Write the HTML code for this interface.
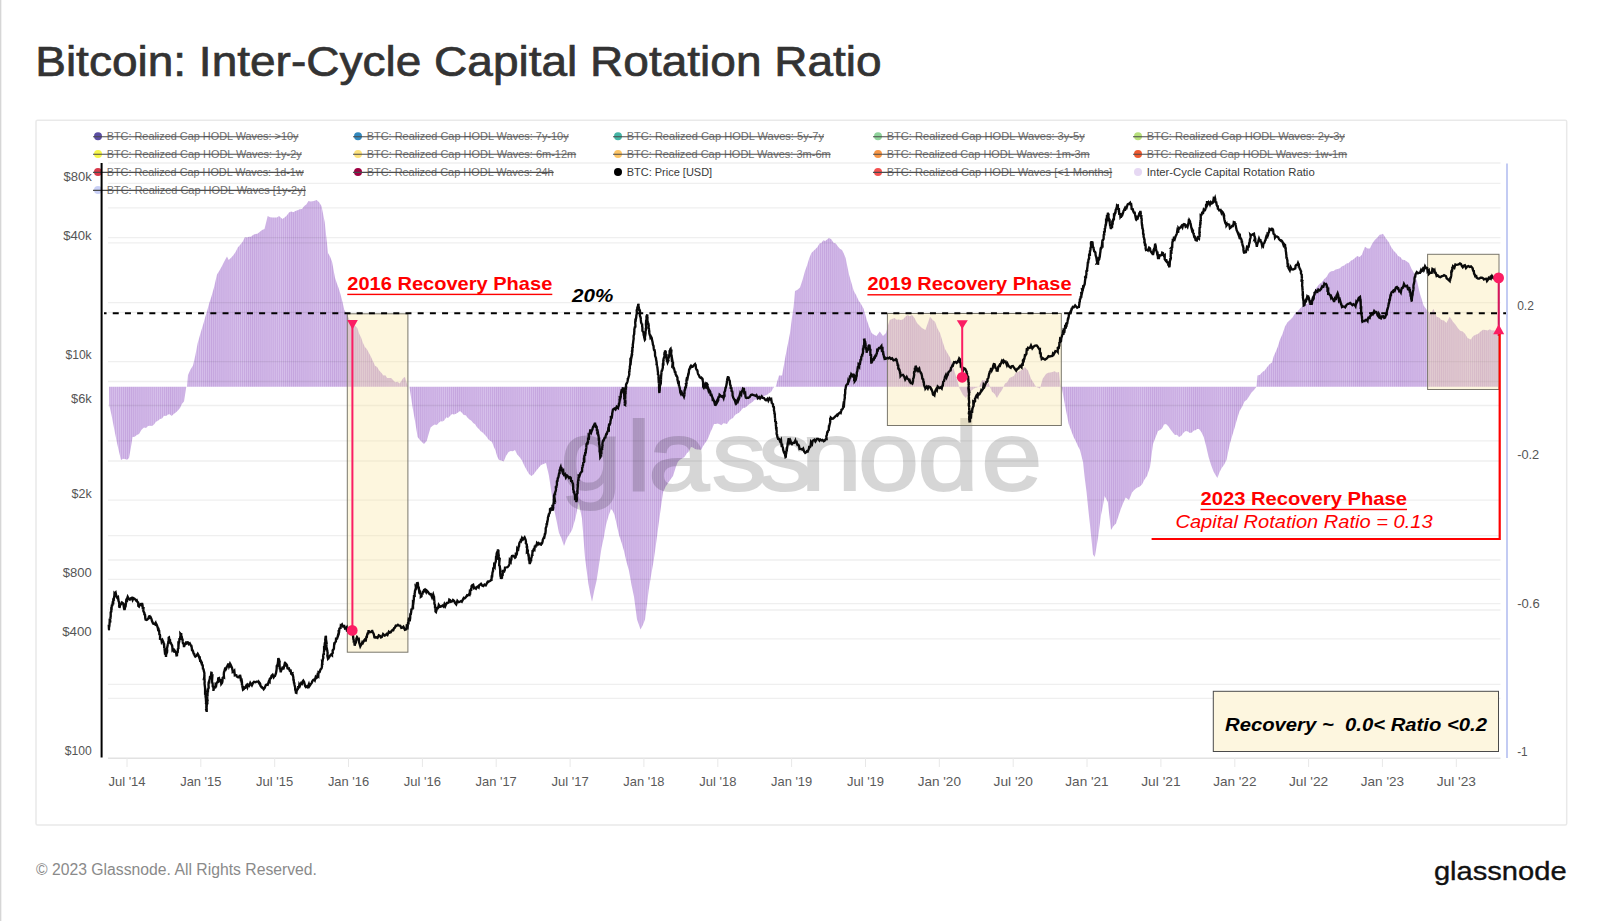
<!DOCTYPE html>
<html lang="en"><head><meta charset="utf-8"><title>Bitcoin: Inter-Cycle Capital Rotation Ratio</title>
<style>
html,body{margin:0;padding:0;background:#fff}
body{width:1600px;height:921px;position:relative;overflow:hidden;font-family:'Liberation Sans', sans-serif}
.edge{position:absolute;left:0;top:0;width:1px;height:921px;background:#d6d6d6;border-right:1px solid #f1f1f1}
.title{position:absolute;left:36px;top:36px;font-size:42px;line-height:48px;color:#333;white-space:nowrap;letter-spacing:0px}
.foot{position:absolute;left:36px;top:860px;font-size:15.6px;line-height:20px;color:#8a8a8a;white-space:nowrap}
</style></head><body>
<div class="edge"></div>
<svg width="1600" height="921" viewBox="0 0 1600 921" style="position:absolute;left:0;top:0" font-family="'Liberation Sans', sans-serif">
<defs><pattern id="st" width="2.05" height="8" patternUnits="userSpaceOnUse"><rect width="2.05" height="8" fill="#d6c0eb"/><rect x="0" width="1.0" height="8" fill="#c5a5de"/></pattern></defs>
<rect x="36" y="120.2" width="1530.7" height="704.8" rx="1.5" fill="#fff" stroke="#e9e9e9" stroke-width="1.5"/>
<line x1="108" x2="1500.5" y1="758.2" y2="758.2" stroke="#e2e2e2" stroke-width="1.5"/>
<line x1="127.0" x2="127.0" y1="758" y2="767" stroke="#e8e8e8" stroke-width="1"/>
<text x="127.0" y="786" font-size="12.6" fill="#5a5a5a" text-anchor="middle" textLength="37.2" lengthAdjust="spacingAndGlyphs">Jul '14</text>
<line x1="200.8" x2="200.8" y1="758" y2="767" stroke="#e8e8e8" stroke-width="1"/>
<text x="200.8" y="786" font-size="12.6" fill="#5a5a5a" text-anchor="middle" textLength="41.2" lengthAdjust="spacingAndGlyphs">Jan '15</text>
<line x1="274.7" x2="274.7" y1="758" y2="767" stroke="#e8e8e8" stroke-width="1"/>
<text x="274.7" y="786" font-size="12.6" fill="#5a5a5a" text-anchor="middle" textLength="37.2" lengthAdjust="spacingAndGlyphs">Jul '15</text>
<line x1="348.5" x2="348.5" y1="758" y2="767" stroke="#e8e8e8" stroke-width="1"/>
<text x="348.5" y="786" font-size="12.6" fill="#5a5a5a" text-anchor="middle" textLength="41.2" lengthAdjust="spacingAndGlyphs">Jan '16</text>
<line x1="422.4" x2="422.4" y1="758" y2="767" stroke="#e8e8e8" stroke-width="1"/>
<text x="422.4" y="786" font-size="12.6" fill="#5a5a5a" text-anchor="middle" textLength="37.2" lengthAdjust="spacingAndGlyphs">Jul '16</text>
<line x1="496.2" x2="496.2" y1="758" y2="767" stroke="#e8e8e8" stroke-width="1"/>
<text x="496.2" y="786" font-size="12.6" fill="#5a5a5a" text-anchor="middle" textLength="41.2" lengthAdjust="spacingAndGlyphs">Jan '17</text>
<line x1="570.1" x2="570.1" y1="758" y2="767" stroke="#e8e8e8" stroke-width="1"/>
<text x="570.1" y="786" font-size="12.6" fill="#5a5a5a" text-anchor="middle" textLength="37.2" lengthAdjust="spacingAndGlyphs">Jul '17</text>
<line x1="643.9" x2="643.9" y1="758" y2="767" stroke="#e8e8e8" stroke-width="1"/>
<text x="643.9" y="786" font-size="12.6" fill="#5a5a5a" text-anchor="middle" textLength="41.2" lengthAdjust="spacingAndGlyphs">Jan '18</text>
<line x1="717.8" x2="717.8" y1="758" y2="767" stroke="#e8e8e8" stroke-width="1"/>
<text x="717.8" y="786" font-size="12.6" fill="#5a5a5a" text-anchor="middle" textLength="37.2" lengthAdjust="spacingAndGlyphs">Jul '18</text>
<line x1="791.6" x2="791.6" y1="758" y2="767" stroke="#e8e8e8" stroke-width="1"/>
<text x="791.6" y="786" font-size="12.6" fill="#5a5a5a" text-anchor="middle" textLength="41.2" lengthAdjust="spacingAndGlyphs">Jan '19</text>
<line x1="865.5" x2="865.5" y1="758" y2="767" stroke="#e8e8e8" stroke-width="1"/>
<text x="865.5" y="786" font-size="12.6" fill="#5a5a5a" text-anchor="middle" textLength="37.2" lengthAdjust="spacingAndGlyphs">Jul '19</text>
<line x1="939.3" x2="939.3" y1="758" y2="767" stroke="#e8e8e8" stroke-width="1"/>
<text x="939.3" y="786" font-size="12.6" fill="#5a5a5a" text-anchor="middle" textLength="43.3" lengthAdjust="spacingAndGlyphs">Jan '20</text>
<line x1="1013.2" x2="1013.2" y1="758" y2="767" stroke="#e8e8e8" stroke-width="1"/>
<text x="1013.2" y="786" font-size="12.6" fill="#5a5a5a" text-anchor="middle" textLength="39.3" lengthAdjust="spacingAndGlyphs">Jul '20</text>
<line x1="1087.0" x2="1087.0" y1="758" y2="767" stroke="#e8e8e8" stroke-width="1"/>
<text x="1087.0" y="786" font-size="12.6" fill="#5a5a5a" text-anchor="middle" textLength="43.3" lengthAdjust="spacingAndGlyphs">Jan '21</text>
<line x1="1160.9" x2="1160.9" y1="758" y2="767" stroke="#e8e8e8" stroke-width="1"/>
<text x="1160.9" y="786" font-size="12.6" fill="#5a5a5a" text-anchor="middle" textLength="39.3" lengthAdjust="spacingAndGlyphs">Jul '21</text>
<line x1="1234.8" x2="1234.8" y1="758" y2="767" stroke="#e8e8e8" stroke-width="1"/>
<text x="1234.8" y="786" font-size="12.6" fill="#5a5a5a" text-anchor="middle" textLength="43.3" lengthAdjust="spacingAndGlyphs">Jan '22</text>
<line x1="1308.6" x2="1308.6" y1="758" y2="767" stroke="#e8e8e8" stroke-width="1"/>
<text x="1308.6" y="786" font-size="12.6" fill="#5a5a5a" text-anchor="middle" textLength="39.3" lengthAdjust="spacingAndGlyphs">Jul '22</text>
<line x1="1382.4" x2="1382.4" y1="758" y2="767" stroke="#e8e8e8" stroke-width="1"/>
<text x="1382.4" y="786" font-size="12.6" fill="#5a5a5a" text-anchor="middle" textLength="43.3" lengthAdjust="spacingAndGlyphs">Jan '23</text>
<line x1="1456.3" x2="1456.3" y1="758" y2="767" stroke="#e8e8e8" stroke-width="1"/>
<text x="1456.3" y="786" font-size="12.6" fill="#5a5a5a" text-anchor="middle" textLength="39.3" lengthAdjust="spacingAndGlyphs">Jul '23</text>
<polygon points="109.0,386.8 109.2,405.0 111.4,414.5 114.0,428.0 117.0,443.0 119.0,451.8 121.0,460.0 123.0,458.8 125.0,459.0 127.0,459.7 129.0,458.0 130.8,447.9 132.5,437.0 134.7,436.7 136.8,435.1 139.0,434.0 141.5,429.7 144.0,427.5 146.0,428.0 148.0,426.0 150.0,425.8 152.0,426.0 154.0,424.5 156.0,421.8 158.0,420.7 160.0,419.0 162.0,418.4 164.0,415.8 166.0,416.0 168.0,414.5 169.8,414.3 171.6,416.0 173.7,413.9 175.8,412.4 177.9,410.4 180.0,408.0 182.0,403.7 184.0,401.5 186.3,386.8 187.0,386.8 188.0,375.0 190.5,369.6 193.0,365.6 195.3,355.4 197.7,343.0 199.7,336.1 201.6,329.5 203.6,323.0 205.4,316.4 207.2,310.8 209.0,304.0 211.5,296.3 214.0,287.5 217.0,274.5 219.5,270.6 222.0,266.0 224.5,261.0 227.0,256.5 228.7,260.0 231.1,257.7 233.5,255.0 235.7,251.7 237.8,247.6 240.0,245.0 242.5,242.1 245.0,237.0 247.0,237.6 249.0,236.7 251.0,236.7 253.0,235.0 255.2,233.9 257.4,233.8 259.6,232.0 262.1,229.9 264.5,229.0 267.7,216.0 270.1,217.3 272.6,217.5 274.7,217.5 276.9,217.6 279.0,216.0 282.4,219.0 284.6,217.6 286.8,215.6 289.0,212.5 291.1,211.4 293.3,212.2 295.4,211.0 297.6,210.3 299.8,209.2 302.0,209.0 304.2,206.0 306.3,204.4 308.5,201.0 310.5,201.6 312.6,201.3 314.6,200.7 316.6,200.0 319.1,202.2 321.5,206.0 324.7,222.0 328.0,253.0 330.0,256.4 332.0,261.4 335.0,277.7 336.8,283.3 338.6,287.9 340.4,294.0 342.4,301.6 344.3,310.0 346.5,313.4 348.6,317.8 350.8,323.0 353.0,325.2 355.1,325.7 357.3,328.0 359.2,333.8 361.1,337.6 363.0,343.0 364.9,347.0 366.8,348.9 368.7,352.6 370.8,356.4 372.9,361.1 375.0,365.7 377.1,367.0 379.2,370.4 381.3,372.7 383.4,375.4 385.3,375.2 387.2,378.1 389.2,377.9 391.1,377.9 393.0,380.0 395.2,382.3 397.5,381.7 399.7,383.6 401.5,380.8 403.2,378.1 405.0,377.0 407.8,386.8 409.4,386.8 412.7,408.0 415.1,421.5 417.6,437.0 419.7,439.8 421.9,441.9 424.0,444.0 426.7,441.0 428.6,434.3 430.6,427.6 432.7,425.8 434.7,424.6 436.8,425.1 438.8,422.7 440.7,421.3 442.5,421.6 444.4,420.3 446.3,417.3 448.1,418.0 450.0,416.0 452.0,413.9 454.0,414.5 456.0,413.7 458.0,412.5 460.0,411.0 461.9,412.8 463.8,415.1 465.7,415.2 467.6,417.8 469.5,419.4 471.4,420.7 473.2,422.9 475.1,424.2 477.0,427.3 478.9,428.9 480.7,431.2 482.6,432.4 484.5,434.6 486.4,436.5 488.2,439.2 490.1,440.8 492.0,442.0 493.8,446.7 495.5,450.6 497.2,456.5 499.0,460.0 501.4,460.5 503.7,461.6 506.1,455.8 508.6,452.0 510.7,450.9 512.9,451.2 515.0,450.0 517.2,454.4 519.5,457.0 521.7,460.0 524.1,465.3 526.5,469.8 529.0,473.9 531.4,476.0 533.7,474.2 536.0,471.0 538.5,467.9 541.0,465.0 543.5,463.9 546.0,463.0 549.0,476.0 551.5,493.1 554.0,509.0 556.5,520.6 559.0,533.0 561.5,538.6 564.0,546.0 567.0,538.0 569.5,534.3 572.0,530.0 575.4,518.6 578.7,502.0 582.0,518.6 585.0,557.7 588.4,583.8 590.2,593.5 592.0,601.7 594.3,590.5 596.6,580.5 599.0,564.7 601.5,548.0 603.8,537.4 606.0,525.0 608.5,516.1 611.0,509.0 612.8,511.1 614.5,515.0 616.8,525.0 619.0,535.0 621.5,542.6 624.0,551.0 626.5,561.9 629.0,570.7 631.5,584.9 634.0,596.8 637.0,619.6 638.8,624.4 640.5,629.4 642.8,625.2 645.0,619.6 646.9,605.1 648.7,590.0 651.2,574.7 653.6,561.0 656.0,544.1 658.5,525.0 660.8,508.0 663.0,492.6 665.5,486.8 668.0,483.0 670.5,479.4 673.0,476.0 676.0,466.5 677.8,462.1 679.6,460.0 682.0,458.5 684.5,457.0 686.7,453.5 688.8,451.4 691.0,447.0 693.0,447.4 695.0,449.0 697.0,449.5 699.0,449.6 701.0,450.0 703.0,446.2 705.0,443.3 707.0,440.6 708.8,436.4 710.5,432.0 712.2,428.5 714.0,424.0 715.9,424.0 717.7,423.6 719.6,424.3 721.4,425.2 723.3,423.3 725.1,423.6 727.0,424.0 729.0,420.8 731.0,419.0 733.0,418.0 735.0,414.9 737.0,413.8 739.0,412.8 741.0,410.5 743.0,408.0 745.0,407.8 747.0,406.2 749.0,404.3 751.0,403.0 753.0,401.5 754.9,399.6 756.9,399.8 758.8,398.8 760.8,399.0 762.7,398.0 764.8,395.5 766.9,395.1 768.9,393.2 771.0,392.0 774.0,386.8 775.7,386.8 779.0,375.4 782.0,375.4 783.8,365.7 785.5,356.0 787.8,344.3 790.0,333.0 791.8,319.0 793.6,307.0 795.0,291.0 797.5,289.8 800.0,287.5 802.5,280.0 805.0,271.0 807.1,265.2 809.3,258.1 811.4,253.0 813.4,250.9 815.5,249.1 817.5,247.0 819.5,243.5 821.4,243.0 823.3,240.2 825.2,241.1 827.1,239.5 829.0,238.0 831.3,239.3 833.5,242.7 835.8,243.5 837.9,246.4 839.9,248.8 842.0,250.0 843.8,253.4 845.6,258.0 849.0,274.5 851.4,282.8 853.7,290.7 856.2,295.3 858.6,300.5 861.0,304.1 863.5,308.6 866.8,320.0 869.2,327.1 871.6,333.0 874.0,334.8 876.5,336.0 879.8,331.5 883.0,336.0 886.0,333.0 887.8,326.1 889.6,320.0 892.0,319.1 894.5,318.0 896.7,319.7 898.8,319.5 901.0,320.0 903.2,319.3 905.3,316.8 907.5,315.0 909.8,316.2 912.0,315.0 914.5,317.9 917.0,323.0 919.5,325.4 922.0,328.0 925.4,330.0 927.7,323.5 930.0,316.8 932.5,319.8 935.0,321.7 937.5,328.5 940.0,333.0 942.5,341.3 945.0,349.0 947.5,353.2 950.0,357.5 952.4,365.1 954.7,372.0 957.2,380.3 959.6,388.5 963.0,395.0 966.0,398.0 969.0,391.7 971.5,390.6 974.0,388.5 979.0,386.8 982.0,380.0 984.5,380.4 987.0,378.7 990.0,386.8 992.0,391.7 994.5,393.7 997.0,398.0 999.5,393.6 1002.0,390.0 1003.5,386.8 1005.0,383.6 1007.2,382.3 1009.5,378.1 1011.7,377.0 1013.8,376.0 1015.9,372.5 1018.0,372.0 1020.3,370.7 1022.5,369.4 1024.8,367.0 1028.0,370.6 1031.0,378.7 1036.0,386.8 1040.0,388.5 1042.7,378.7 1046.0,374.0 1048.1,372.7 1050.3,372.4 1052.4,372.0 1054.6,371.3 1056.8,372.5 1059.0,372.0 1060.6,386.8 1062.0,389.0 1063.8,398.6 1065.5,408.0 1068.7,424.0 1071.2,430.8 1073.6,437.0 1075.7,440.9 1077.9,445.9 1080.0,450.0 1083.0,462.0 1084.8,478.4 1086.6,492.6 1088.3,509.5 1090.0,525.0 1093.0,554.5 1094.8,557.0 1098.0,538.0 1101.0,515.0 1102.8,506.6 1104.6,496.0 1107.8,502.0 1111.0,530.0 1113.5,526.1 1116.0,523.5 1118.4,516.3 1120.8,509.0 1123.2,503.0 1125.7,497.5 1129.0,500.0 1132.0,492.6 1134.5,489.8 1137.0,487.7 1139.5,486.8 1142.0,484.4 1144.5,479.4 1147.0,476.0 1150.0,467.0 1153.0,444.0 1155.5,437.6 1158.0,431.0 1160.0,429.9 1162.0,428.5 1164.0,424.6 1166.0,424.0 1168.3,426.2 1170.5,429.6 1172.8,432.4 1174.9,435.0 1176.9,434.7 1179.0,437.0 1181.3,435.8 1183.5,432.8 1185.8,431.0 1187.9,431.6 1189.9,433.0 1192.0,432.4 1193.8,430.5 1195.5,430.3 1197.2,429.0 1199.0,429.0 1201.3,432.1 1203.7,437.0 1206.2,446.5 1208.6,457.0 1211.0,464.7 1213.5,471.5 1215.5,474.9 1217.4,478.0 1219.6,472.1 1221.7,468.0 1224.1,464.7 1226.5,460.0 1229.8,444.0 1232.2,435.8 1234.7,427.6 1237.2,418.4 1239.6,411.0 1242.0,407.0 1244.5,401.5 1246.8,399.8 1249.0,396.6 1251.5,392.6 1254.0,390.0 1256.5,386.8 1257.5,375.4 1260.0,374.8 1262.4,372.0 1264.7,370.4 1267.0,367.3 1269.5,364.2 1272.0,362.4 1273.7,356.3 1275.4,352.6 1277.7,347.0 1280.0,339.6 1282.5,333.9 1285.0,326.6 1287.5,322.3 1290.0,320.0 1292.5,317.4 1295.0,313.6 1297.4,311.8 1299.8,308.7 1302.2,306.6 1304.7,303.8 1307.2,303.7 1309.6,302.0 1312.0,297.5 1314.5,290.7 1317.0,286.9 1319.4,284.0 1321.7,282.5 1324.0,279.3 1326.5,277.1 1329.0,272.8 1331.2,271.3 1333.5,271.1 1335.7,269.6 1337.8,268.9 1339.9,268.2 1342.0,266.3 1344.2,265.4 1346.5,263.6 1348.7,263.0 1350.8,260.7 1352.9,259.8 1355.0,258.0 1357.2,256.1 1359.5,256.9 1361.7,255.0 1365.0,246.8 1367.5,248.5 1369.9,248.4 1372.3,243.6 1374.8,240.0 1377.2,237.8 1379.6,234.7 1381.3,234.6 1383.0,233.7 1386.0,238.6 1388.5,241.8 1391.0,246.8 1393.5,250.6 1396.0,253.0 1398.1,255.9 1400.3,257.1 1402.4,259.8 1404.6,259.9 1406.8,261.4 1409.0,263.0 1411.4,268.6 1413.8,272.8 1417.0,281.0 1420.0,294.0 1421.8,299.6 1423.6,305.4 1426.9,310.0 1430.0,313.6 1431.7,311.9 1433.4,308.7 1436.6,316.8 1439.0,317.6 1441.5,320.0 1444.0,320.6 1446.4,323.0 1449.7,316.8 1453.0,321.7 1455.4,324.5 1457.8,328.0 1460.2,330.7 1462.7,331.5 1465.2,333.9 1467.6,338.0 1470.8,339.6 1473.2,336.1 1475.7,334.7 1478.2,333.7 1480.6,331.5 1483.0,329.8 1485.5,330.0 1487.7,330.6 1489.8,329.3 1492.0,330.5 1494.0,330.2 1496.0,331.6 1498.0,331.5 1498.0,386.8" fill="url(#st)"/>
<line x1="108" x2="1500.5" y1="163" y2="163" stroke="#000" stroke-opacity="0.062" stroke-width="1.3"/>
<line x1="108" x2="1500.5" y1="183.3" y2="183.3" stroke="#000" stroke-opacity="0.062" stroke-width="1.3"/>
<line x1="108" x2="1500.5" y1="207.8" y2="207.8" stroke="#000" stroke-opacity="0.062" stroke-width="1.3"/>
<line x1="108" x2="1500.5" y1="237.6" y2="237.6" stroke="#000" stroke-opacity="0.062" stroke-width="1.3"/>
<line x1="108" x2="1500.5" y1="242.9" y2="242.9" stroke="#000" stroke-opacity="0.062" stroke-width="1.3"/>
<line x1="108" x2="1500.5" y1="302.6" y2="302.6" stroke="#000" stroke-opacity="0.062" stroke-width="1.3"/>
<line x1="108" x2="1500.5" y1="312.3" y2="312.3" stroke="#000" stroke-opacity="0.062" stroke-width="1.3"/>
<line x1="108" x2="1500.5" y1="361.7" y2="361.7" stroke="#000" stroke-opacity="0.062" stroke-width="1.3"/>
<line x1="108" x2="1500.5" y1="381.5" y2="381.5" stroke="#000" stroke-opacity="0.062" stroke-width="1.3"/>
<line x1="108" x2="1500.5" y1="405.5" y2="405.5" stroke="#000" stroke-opacity="0.062" stroke-width="1.3"/>
<line x1="108" x2="1500.5" y1="440.8" y2="440.8" stroke="#000" stroke-opacity="0.062" stroke-width="1.3"/>
<line x1="108" x2="1500.5" y1="461" y2="461" stroke="#000" stroke-opacity="0.062" stroke-width="1.3"/>
<line x1="108" x2="1500.5" y1="500.2" y2="500.2" stroke="#000" stroke-opacity="0.062" stroke-width="1.3"/>
<line x1="108" x2="1500.5" y1="535.6" y2="535.6" stroke="#000" stroke-opacity="0.062" stroke-width="1.3"/>
<line x1="108" x2="1500.5" y1="560" y2="560" stroke="#000" stroke-opacity="0.062" stroke-width="1.3"/>
<line x1="108" x2="1500.5" y1="579.4" y2="579.4" stroke="#000" stroke-opacity="0.062" stroke-width="1.3"/>
<line x1="108" x2="1500.5" y1="603.6" y2="603.6" stroke="#000" stroke-opacity="0.062" stroke-width="1.3"/>
<line x1="108" x2="1500.5" y1="610" y2="610" stroke="#000" stroke-opacity="0.062" stroke-width="1.3"/>
<line x1="108" x2="1500.5" y1="638.9" y2="638.9" stroke="#000" stroke-opacity="0.062" stroke-width="1.3"/>
<line x1="108" x2="1500.5" y1="684.4" y2="684.4" stroke="#000" stroke-opacity="0.062" stroke-width="1.3"/>
<line x1="108" x2="1500.5" y1="698.3" y2="698.3" stroke="#000" stroke-opacity="0.062" stroke-width="1.3"/>
<g opacity="0.155" transform="scale(1.12,1)"><text x="500.4 559.4 578.8 635.5 677 714.9 766.1 819.3 876.1" y="489.6" font-size="98" fill="#000" stroke="#000" stroke-width="2">glassnode</text></g>
<rect x="347.3" y="313.8" width="60.6" height="338.4" fill="#f8e49a" fill-opacity="0.33" stroke="#7a776c" stroke-width="1"/>
<rect x="887.4" y="313.5" width="173.9" height="112" fill="#f8e49a" fill-opacity="0.33" stroke="#7a776c" stroke-width="1"/>
<rect x="1427.6" y="254.3" width="71.4" height="135.2" fill="#f8e49a" fill-opacity="0.33" stroke="#7a776c" stroke-width="1"/>
<circle cx="98" cy="136.3" r="4" fill="#5b4ea2"/>
<text x="106.7" y="139.9" font-size="10.8" fill="#707070" textLength="191.8" lengthAdjust="spacingAndGlyphs">BTC: Realized Cap HODL Waves: >10y</text>
<line x1="93" x2="298.5" y1="136.7" y2="136.7" stroke="#4a4a4a" stroke-width="1.1"/>
<circle cx="358" cy="136.3" r="4" fill="#3288bd"/>
<text x="366.7" y="139.9" font-size="10.8" fill="#707070" textLength="202" lengthAdjust="spacingAndGlyphs">BTC: Realized Cap HODL Waves: 7y-10y</text>
<line x1="353" x2="568.7" y1="136.7" y2="136.7" stroke="#4a4a4a" stroke-width="1.1"/>
<circle cx="618" cy="136.3" r="4" fill="#45b5a5"/>
<text x="626.7" y="139.9" font-size="10.8" fill="#707070" textLength="197.3" lengthAdjust="spacingAndGlyphs">BTC: Realized Cap HODL Waves: 5y-7y</text>
<line x1="613" x2="824.0" y1="136.7" y2="136.7" stroke="#4a4a4a" stroke-width="1.1"/>
<circle cx="878" cy="136.3" r="4" fill="#8fd39b"/>
<text x="886.7" y="139.9" font-size="10.8" fill="#707070" textLength="198" lengthAdjust="spacingAndGlyphs">BTC: Realized Cap HODL Waves: 3y-5y</text>
<line x1="873" x2="1084.7" y1="136.7" y2="136.7" stroke="#4a4a4a" stroke-width="1.1"/>
<circle cx="1138" cy="136.3" r="4" fill="#b7e07c"/>
<text x="1146.7" y="139.9" font-size="10.8" fill="#707070" textLength="198.2" lengthAdjust="spacingAndGlyphs">BTC: Realized Cap HODL Waves: 2y-3y</text>
<line x1="1133" x2="1344.9" y1="136.7" y2="136.7" stroke="#4a4a4a" stroke-width="1.1"/>
<circle cx="98" cy="153.9" r="4" fill="#f6f64a"/>
<text x="106.7" y="157.5" font-size="10.8" fill="#707070" textLength="195" lengthAdjust="spacingAndGlyphs">BTC: Realized Cap HODL Waves: 1y-2y</text>
<line x1="93" x2="301.7" y1="154.3" y2="154.3" stroke="#4a4a4a" stroke-width="1.1"/>
<circle cx="358" cy="153.9" r="4" fill="#fde27c"/>
<text x="366.7" y="157.5" font-size="10.8" fill="#707070" textLength="209.5" lengthAdjust="spacingAndGlyphs">BTC: Realized Cap HODL Waves: 6m-12m</text>
<line x1="353" x2="576.2" y1="154.3" y2="154.3" stroke="#4a4a4a" stroke-width="1.1"/>
<circle cx="618" cy="153.9" r="4" fill="#fdc566"/>
<text x="626.7" y="157.5" font-size="10.8" fill="#707070" textLength="204" lengthAdjust="spacingAndGlyphs">BTC: Realized Cap HODL Waves: 3m-6m</text>
<line x1="613" x2="830.7" y1="154.3" y2="154.3" stroke="#4a4a4a" stroke-width="1.1"/>
<circle cx="878" cy="153.9" r="4" fill="#f79646"/>
<text x="886.7" y="157.5" font-size="10.8" fill="#707070" textLength="203" lengthAdjust="spacingAndGlyphs">BTC: Realized Cap HODL Waves: 1m-3m</text>
<line x1="873" x2="1089.7" y1="154.3" y2="154.3" stroke="#4a4a4a" stroke-width="1.1"/>
<circle cx="1138" cy="153.9" r="4" fill="#ee5a30"/>
<text x="1146.7" y="157.5" font-size="10.8" fill="#707070" textLength="200.5" lengthAdjust="spacingAndGlyphs">BTC: Realized Cap HODL Waves: 1w-1m</text>
<line x1="1133" x2="1347.2" y1="154.3" y2="154.3" stroke="#4a4a4a" stroke-width="1.1"/>
<circle cx="98" cy="172" r="4" fill="#d83a4b"/>
<text x="106.7" y="175.6" font-size="10.8" fill="#707070" textLength="197" lengthAdjust="spacingAndGlyphs">BTC: Realized Cap HODL Waves: 1d-1w</text>
<line x1="93" x2="303.7" y1="172.4" y2="172.4" stroke="#4a4a4a" stroke-width="1.1"/>
<circle cx="358" cy="172" r="4" fill="#9e0142"/>
<text x="366.7" y="175.6" font-size="10.8" fill="#707070" textLength="187" lengthAdjust="spacingAndGlyphs">BTC: Realized Cap HODL Waves: 24h</text>
<line x1="353" x2="553.7" y1="172.4" y2="172.4" stroke="#4a4a4a" stroke-width="1.1"/>
<circle cx="618" cy="172" r="4" fill="#000"/>
<text x="626.7" y="175.6" font-size="10.8" fill="#3a3a3a" textLength="85.5" lengthAdjust="spacingAndGlyphs">BTC: Price [USD]</text>
<circle cx="878" cy="172" r="4" fill="#f4504f"/>
<text x="886.7" y="175.6" font-size="10.8" fill="#707070" textLength="225.5" lengthAdjust="spacingAndGlyphs">BTC: Realized Cap HODL Waves [&lt;1 Months]</text>
<line x1="873" x2="1112.2" y1="172.4" y2="172.4" stroke="#4a4a4a" stroke-width="1.1"/>
<circle cx="1138" cy="172" r="4" fill="#e6d8f3"/>
<text x="1146.7" y="175.6" font-size="10.8" fill="#3a3a3a" textLength="168" lengthAdjust="spacingAndGlyphs">Inter-Cycle Capital Rotation Ratio</text>
<circle cx="98" cy="190" r="4" fill="#c9d0f6"/>
<text x="106.7" y="193.6" font-size="10.8" fill="#707070" textLength="199" lengthAdjust="spacingAndGlyphs">BTC: Realized Cap HODL Waves [1y-2y]</text>
<line x1="93" x2="305.7" y1="190.4" y2="190.4" stroke="#4a4a4a" stroke-width="1.1"/>
<line x1="101.6" x2="101.6" y1="163" y2="757.5" stroke="#000" stroke-width="2"/>
<line x1="1507" x2="1507" y1="163.5" y2="758" stroke="#c3cbf3" stroke-width="2"/>
<text x="63.4" y="180.6" font-size="12" fill="#555" textLength="28.3" lengthAdjust="spacingAndGlyphs">$80k</text>
<text x="63.2" y="240.2" font-size="12" fill="#555" textLength="28.5" lengthAdjust="spacingAndGlyphs">$40k</text>
<text x="65.4" y="359.4" font-size="12" fill="#555" textLength="26.3" lengthAdjust="spacingAndGlyphs">$10k</text>
<text x="71.0" y="403.4" font-size="12" fill="#555" textLength="20.7" lengthAdjust="spacingAndGlyphs">$6k</text>
<text x="71.5" y="497.8" font-size="12" fill="#555" textLength="20.2" lengthAdjust="spacingAndGlyphs">$2k</text>
<text x="62.7" y="576.6" font-size="12" fill="#555" textLength="29" lengthAdjust="spacingAndGlyphs">$800</text>
<text x="62.2" y="636.2" font-size="12" fill="#555" textLength="29.5" lengthAdjust="spacingAndGlyphs">$400</text>
<text x="64.7" y="755.4" font-size="12" fill="#555" textLength="27" lengthAdjust="spacingAndGlyphs">$100</text>
<text x="1517.2" y="309.8" font-size="12" fill="#555" textLength="16.7" lengthAdjust="spacingAndGlyphs">0.2</text>
<text x="1517.2" y="458.8" font-size="12" fill="#555" textLength="22" lengthAdjust="spacingAndGlyphs">-0.2</text>
<text x="1517.2" y="607.5" font-size="12" fill="#555" textLength="22.5" lengthAdjust="spacingAndGlyphs">-0.6</text>
<text x="1517.2" y="756.0" font-size="12" fill="#555" textLength="10.5" lengthAdjust="spacingAndGlyphs">-1</text>
<polyline points="109.0,629.4 108.9,627.5 109.0,627.6 109.4,625.9 109.6,622.8 109.7,621.5 109.7,620.4 110.2,620.6 110.0,618.2 110.6,619.0 110.4,617.6 110.4,618.0 110.7,616.3 110.7,612.2 111.3,611.7 111.3,609.9 111.4,610.0 111.6,609.4 111.6,607.8 111.9,604.7 112.3,606.0 112.6,603.4 112.7,602.7 113.2,602.9 113.3,599.5 113.7,599.5 113.6,599.1 113.8,599.0 114.4,595.5 114.5,593.3 114.7,593.5 115.6,592.5 116.4,596.3 117.1,597.6 118.0,597.0 118.2,599.0 118.3,599.8 118.8,602.0 118.8,601.8 119.0,601.4 119.3,604.9 119.0,606.8 119.4,606.3 119.5,608.0 120.1,605.1 120.6,604.7 121.6,603.2 122.0,602.5 122.8,603.0 123.3,603.7 123.3,603.7 123.8,606.7 124.1,608.9 124.1,607.9 124.4,610.0 124.9,608.2 124.8,609.4 125.1,605.1 125.6,604.1 125.8,604.4 126.2,600.8 126.5,601.1 126.9,602.2 127.2,599.3 127.1,598.7 127.7,596.8 128.8,599.0 129.8,599.6 130.6,598.3 131.7,597.8 132.6,600.0 133.4,598.2 134.5,598.8 135.8,600.0 136.1,600.5 136.7,600.2 137.3,601.7 138.2,602.5 138.3,606.0 139.0,606.6 139.7,604.7 140.3,604.3 141.5,605.3 142.0,603.0 142.2,604.0 142.3,603.7 142.6,605.9 142.8,609.1 143.6,607.0 143.3,610.2 143.5,611.5 144.3,612.6 144.4,615.1 144.5,613.9 145.0,614.7 145.3,617.4 145.2,617.7 145.6,619.6 146.7,620.0 147.5,619.4 148.3,618.5 149.0,616.4 149.6,616.2 149.9,617.7 150.7,617.3 151.5,619.1 152.0,621.0 153.1,623.5 154.6,624.1 155.4,623.0 155.9,625.9 156.3,624.0 156.8,625.0 157.8,627.8 158.1,629.7 158.6,629.4 159.0,631.2 159.1,630.1 159.4,634.6 159.4,635.2 159.8,634.1 160.1,635.9 160.0,639.7 160.3,639.0 161.4,639.5 161.7,641.6 162.5,640.1 163.5,642.4 163.9,645.2 164.1,643.4 164.2,648.0 164.4,646.7 164.3,647.0 164.8,651.6 165.2,651.0 165.4,651.9 165.2,654.7 165.5,653.6 165.8,654.7 166.0,657.0 166.1,654.8 166.6,653.1 166.5,652.8 167.0,652.5 167.2,650.6 167.1,649.7 167.0,648.6 167.3,647.0 167.9,644.0 167.9,643.5 168.1,644.5 168.3,641.7 168.6,641.4 168.7,638.4 168.7,637.7 169.0,637.5 169.4,639.7 170.0,640.0 170.2,642.6 170.6,642.6 171.1,643.3 171.4,644.2 172.1,645.5 172.4,647.5 172.5,649.6 173.0,649.0 173.8,650.3 173.9,652.5 174.7,650.7 175.2,651.6 176.0,652.6 176.5,655.4 177.0,655.3 177.1,651.6 177.0,652.5 177.7,652.2 178.0,648.3 177.9,647.9 178.4,649.0 178.4,644.5 178.6,644.8 178.8,642.3 178.8,643.2 179.3,641.3 179.5,638.0 179.9,639.3 180.4,635.8 180.6,637.5 180.4,633.6 180.8,634.0 181.3,633.3 181.2,635.4 181.9,637.2 181.8,640.0 182.5,638.5 182.7,641.4 182.6,640.6 183.1,644.2 183.7,642.9 183.9,646.4 184.0,647.0 184.8,644.4 185.4,643.4 185.7,644.1 186.7,643.5 187.0,642.4 187.8,642.3 188.8,644.2 189.8,643.3 191.0,645.7 191.2,645.0 191.7,647.1 192.0,650.0 192.4,650.0 192.7,650.5 193.0,651.2 193.8,654.2 194.1,653.1 194.5,655.4 195.3,656.6 196.6,655.6 197.7,653.8 198.4,655.0 198.6,655.7 199.4,658.1 199.8,657.9 200.1,660.5 200.4,660.4 201.0,662.0 201.2,661.4 201.9,662.7 201.9,664.7 202.7,665.2 203.0,669.5 203.1,668.4 203.6,669.7 204.0,671.7 204.0,671.5 204.4,673.1 204.3,677.1 204.6,675.4 204.3,676.9 204.4,676.8 204.5,679.9 204.6,680.0 204.5,680.4 204.7,681.9 204.5,682.9 204.7,685.1 205.0,687.4 205.2,689.3 205.4,690.3 205.1,690.2 205.1,693.8 205.4,693.9 205.6,692.4 205.6,697.0 205.8,697.5 205.7,696.3 205.9,699.0 206.0,701.4 206.1,701.7 206.1,703.2 205.8,702.6 206.0,703.4 206.4,704.5 206.3,707.5 206.5,708.9 206.1,709.6 206.5,710.8 206.7,710.8 206.7,708.4 206.5,707.9 206.7,707.0 206.8,703.2 206.9,704.6 207.4,703.5 207.2,701.3 207.4,700.0 207.5,700.0 207.2,698.3 207.4,695.2 207.6,696.4 207.5,694.5 207.7,691.2 208.1,692.5 207.9,691.3 208.1,689.5 208.0,688.1 208.1,688.6 208.7,687.8 208.5,684.7 208.7,681.6 209.3,683.6 209.2,681.0 209.8,678.8 209.9,677.6 210.1,676.2 210.1,678.2 210.6,676.5 211.0,675.6 211.4,671.8 211.4,671.7 211.2,672.9 211.6,672.1 211.7,675.1 211.8,675.1 212.2,677.0 212.3,676.9 212.0,681.5 212.5,683.1 212.4,684.2 212.6,683.3 212.8,687.0 212.9,685.6 212.8,686.5 213.4,687.0 213.5,688.9 213.4,691.0 213.6,688.9 213.9,688.9 214.8,687.3 215.1,688.3 215.5,686.3 215.6,684.7 216.2,685.3 216.5,683.3 217.3,682.3 218.0,681.2 218.2,678.3 219.0,678.0 219.4,680.7 220.1,679.9 220.9,680.2 221.3,683.9 222.0,683.0 222.2,682.4 222.5,680.8 222.6,678.0 223.4,677.0 223.2,676.9 224.0,677.4 223.8,674.3 224.0,672.1 224.3,671.5 224.7,669.9 225.3,670.0 225.4,668.5 226.1,668.7 226.9,666.5 227.6,665.6 228.3,663.5 229.0,666.3 230.0,663.6 230.6,664.8 230.8,667.4 231.3,666.2 232.0,667.8 232.7,671.2 232.7,672.0 233.5,671.7 234.3,670.8 234.8,675.2 235.2,675.0 236.4,675.2 236.8,676.6 238.1,677.4 238.8,677.4 240.0,675.0 240.0,674.7 240.6,677.5 240.9,680.4 241.2,680.5 241.3,680.9 241.7,680.5 242.0,682.4 241.9,685.3 242.1,684.5 242.6,687.7 242.5,686.8 243.0,689.6 243.9,688.9 244.5,687.5 245.2,687.6 246.3,685.5 247.3,687.4 248.0,684.7 249.2,685.8 250.3,682.8 251.9,685.3 253.0,683.0 254.0,681.9 255.6,682.2 256.6,681.6 258.0,681.5 259.0,683.1 259.1,682.3 260.1,683.6 260.6,685.9 261.6,687.3 262.0,687.1 262.9,688.0 263.7,689.2 264.7,688.0 265.9,684.9 267.0,684.5 267.7,684.7 268.1,683.6 268.8,681.4 269.6,682.0 269.8,678.8 270.7,678.0 271.0,678.0 271.5,675.8 272.6,674.7 273.7,677.3 274.6,675.9 275.0,675.9 275.9,673.4 276.4,670.9 276.1,671.9 276.5,670.4 276.7,668.0 276.7,666.0 277.1,665.2 277.2,666.6 277.5,665.5 278.0,661.8 278.0,662.4 278.3,658.1 278.5,658.7 279.0,659.4 278.8,659.8 278.8,663.8 279.5,663.1 279.3,665.7 279.5,663.9 279.8,668.7 280.4,669.1 280.2,668.7 280.7,672.3 280.8,671.7 281.5,669.7 281.9,668.9 282.8,666.7 283.3,669.3 283.6,668.4 284.5,664.6 285.4,666.4 285.7,663.6 286.2,664.1 287.0,665.3 287.5,668.3 288.5,668.7 289.0,668.5 289.8,670.8 290.1,670.9 290.7,670.7 291.1,673.5 292.0,673.4 292.4,673.3 292.2,674.6 292.8,674.9 293.3,677.2 293.5,680.6 293.3,679.2 293.7,679.7 294.0,683.3 294.2,682.5 294.5,684.7 294.9,686.4 295.3,688.0 295.1,688.9 295.5,690.7 295.8,690.8 295.9,692.7 296.4,692.9 296.7,690.7 297.5,689.2 297.5,689.7 298.4,687.8 298.3,687.1 299.0,687.1 299.3,684.7 299.9,685.9 301.1,683.0 302.0,683.7 302.6,681.5 303.3,680.6 304.1,681.9 305.2,686.3 305.9,687.1 306.8,686.4 307.7,687.2 308.9,684.1 309.5,686.1 310.8,684.1 311.7,683.0 312.4,681.0 313.2,679.9 314.2,679.5 314.8,680.3 315.7,676.9 316.6,678.0 317.0,677.7 317.5,675.1 318.3,676.0 318.5,672.0 319.4,672.3 319.6,672.2 320.5,669.3 320.8,669.2 321.5,668.5 322.0,666.6 321.9,665.4 322.0,664.4 322.5,665.2 322.2,662.1 322.4,662.3 323.0,658.3 323.1,658.8 323.3,657.5 323.1,656.6 323.5,653.6 323.9,654.9 323.9,651.5 324.0,652.0 324.1,650.3 324.1,648.1 324.6,648.4 324.5,645.5 324.9,647.1 324.6,643.4 325.2,645.2 324.8,642.1 325.1,642.6 325.4,641.3 325.2,639.8 325.4,638.4 325.7,636.0 326.0,636.8 325.8,639.7 326.0,638.5 326.1,640.9 326.2,640.5 326.7,644.1 326.6,642.5 326.4,646.6 326.6,648.1 326.9,648.3 326.9,649.7 327.2,650.0 327.4,651.2 327.4,652.5 327.6,652.0 327.5,655.1 327.9,657.4 327.7,657.3 328.0,658.7 328.8,657.8 330.0,655.6 331.0,654.6 332.0,655.4 332.0,654.3 332.2,653.6 332.8,652.8 332.6,650.7 333.1,649.5 333.1,650.1 333.9,648.6 334.0,646.9 334.3,643.5 334.5,643.5 334.5,642.4 334.8,643.0 335.9,641.4 336.1,637.5 336.5,639.2 337.1,638.7 337.8,636.0 337.9,636.2 338.8,633.8 338.7,631.5 339.1,631.6 339.4,628.6 340.2,628.0 340.5,628.9 340.8,625.8 341.0,626.0 342.1,624.5 343.1,626.5 344.3,626.0 345.0,628.5 345.8,628.3 346.6,627.4 346.9,630.5 347.6,631.0 348.5,631.8 349.7,632.2 350.9,629.2 351.8,629.4 351.8,630.3 351.9,632.7 352.3,634.2 352.9,634.6 352.9,635.6 352.7,635.6 353.0,635.7 353.4,639.2 353.9,639.9 353.7,639.6 353.8,642.8 354.2,641.4 354.4,643.0 354.7,645.7 355.1,643.4 355.3,643.7 355.8,642.7 356.4,639.6 356.3,638.8 357.0,637.1 357.3,637.5 357.9,640.2 358.1,639.5 358.8,639.1 359.1,642.4 359.6,643.9 360.3,646.3 360.6,645.7 361.7,643.9 362.3,642.2 362.9,642.9 364.0,640.7 364.7,639.7 365.5,640.8 365.6,641.5 366.3,637.4 366.7,637.6 366.7,637.7 367.2,634.6 367.9,632.5 368.1,634.3 368.6,630.1 368.7,631.0 369.8,632.0 370.9,632.0 372.0,631.0 372.3,631.0 372.7,632.1 373.6,633.6 374.2,636.1 374.4,637.3 375.0,637.5 376.2,637.3 377.5,637.9 378.8,635.4 380.0,636.0 380.9,637.5 381.9,636.9 383.1,634.0 384.7,635.6 385.4,635.3 386.6,634.0 387.5,634.9 388.8,631.8 389.7,632.7 390.8,632.3 391.5,631.0 392.5,630.0 393.3,630.1 394.1,628.2 394.7,627.9 395.7,625.7 396.4,626.0 397.9,624.8 398.6,625.5 400.3,625.8 401.3,627.8 402.3,627.6 403.4,626.7 404.9,629.8 406.0,629.4 406.5,629.1 406.8,625.5 407.3,625.6 407.7,626.3 408.1,622.2 408.5,624.5 408.5,620.2 408.7,619.1 409.4,619.6 409.9,619.8 410.2,617.8 410.2,616.6 410.4,613.3 410.7,614.7 411.2,611.8 411.4,609.4 411.9,609.3 412.0,608.4 412.4,609.6 412.7,606.6 413.0,606.8 413.0,602.4 413.4,602.8 413.6,601.2 413.5,600.8 413.6,600.9 413.8,599.6 414.0,595.1 414.7,597.0 414.6,592.8 414.9,593.5 414.9,591.1 415.3,590.6 415.3,590.0 415.9,587.9 415.8,586.8 416.3,587.4 416.7,583.9 417.1,582.6 417.4,583.9 417.6,582.0 417.8,583.7 418.0,583.9 418.1,587.0 418.3,588.1 418.7,586.5 419.1,590.4 419.6,589.5 419.5,590.0 420.0,592.4 420.1,594.4 420.2,593.9 420.8,594.3 420.8,596.8 421.5,596.3 421.8,593.2 422.4,594.5 422.9,590.8 423.3,592.7 424.0,590.0 424.9,589.5 426.2,592.2 426.8,590.7 427.9,591.8 429.0,593.5 429.8,594.2 430.8,594.1 432.1,597.4 433.2,594.5 433.9,596.8 434.0,596.4 434.3,601.2 434.3,601.4 434.5,600.5 434.4,601.4 434.4,603.7 435.0,605.0 435.0,607.4 435.1,608.4 435.3,607.6 435.5,609.9 435.5,611.5 436.0,612.0 436.7,609.6 437.0,607.9 437.9,608.1 438.4,607.2 438.8,605.0 440.1,606.8 441.2,606.4 442.5,605.5 443.6,606.6 444.4,604.2 445.3,606.1 445.9,604.6 446.8,603.0 447.5,603.0 448.7,602.4 449.3,599.6 450.0,600.0 450.9,601.7 452.3,601.2 453.0,600.0 454.2,601.0 455.0,603.0 456.2,604.4 457.4,600.8 458.7,602.2 459.8,601.7 460.9,601.1 461.8,601.7 463.0,599.4 463.8,597.9 464.7,598.4 465.8,597.3 466.9,595.5 467.3,595.8 468.5,594.8 469.5,595.0 469.8,591.9 470.2,592.3 470.3,590.8 470.9,589.1 471.1,590.8 471.6,586.7 471.5,586.2 472.0,585.4 473.2,584.7 474.1,588.3 475.0,587.8 476.0,588.7 477.1,586.8 477.7,586.5 478.7,587.5 479.2,585.3 479.9,584.8 481.0,583.8 482.1,585.5 483.3,586.0 484.5,584.5 485.8,585.4 486.4,584.3 487.6,581.8 488.1,582.1 489.1,581.3 490.0,581.0 490.7,580.5 490.9,580.0 491.5,579.9 491.8,575.2 492.1,577.4 492.4,573.2 492.2,573.9 493.1,570.3 493.0,571.7 493.2,568.3 493.9,567.6 494.0,567.5 494.1,565.7 494.7,566.7 495.0,562.6 495.2,563.2 495.6,562.2 495.8,561.5 496.0,557.9 496.3,558.1 496.6,556.5 496.5,555.8 496.7,553.3 496.9,553.2 497.3,551.9 497.7,550.8 498.0,549.6 498.3,550.9 498.4,550.0 498.4,553.0 498.7,555.0 498.6,555.0 498.5,558.5 498.9,558.4 499.0,557.1 499.3,560.9 499.5,560.7 499.3,562.6 499.2,565.3 499.6,565.8 499.9,565.4 499.8,566.7 500.1,568.5 500.0,568.4 500.2,570.5 500.2,573.3 500.3,574.4 500.4,574.3 500.9,575.5 500.9,577.3 500.8,577.1 501.0,579.0 501.5,577.0 502.0,577.2 502.3,573.7 502.6,575.9 502.9,571.4 503.2,570.1 503.9,572.6 504.4,570.4 504.7,570.3 505.0,567.5 506.3,567.4 507.5,567.2 508.6,565.9 508.8,565.5 509.3,564.4 509.5,563.7 509.8,560.2 510.7,561.5 510.8,559.9 511.4,559.5 511.5,557.3 512.0,556.0 513.0,555.8 514.0,556.4 515.0,557.7 515.6,557.2 515.8,553.8 515.9,552.6 516.6,554.6 516.9,554.0 517.2,549.3 517.9,550.5 518.0,551.0 518.4,548.0 518.6,546.5 519.0,546.4 519.3,543.3 520.1,541.6 520.7,540.9 521.0,539.7 520.9,538.7 521.4,540.0 522.0,538.0 523.0,539.5 524.6,537.4 525.6,539.8 526.0,541.9 525.8,543.1 526.4,543.9 526.7,544.5 526.9,544.9 526.6,547.9 527.2,546.3 527.0,550.7 527.6,549.9 527.9,550.6 527.6,553.1 528.2,553.8 528.4,555.3 528.7,555.3 528.8,557.4 528.9,559.7 529.3,559.9 529.6,563.4 529.5,563.1 529.8,564.0 530.4,561.1 530.6,562.4 530.7,559.8 531.2,561.2 531.1,558.5 531.8,556.6 531.9,555.2 532.4,555.0 532.3,554.6 532.6,550.2 533.0,551.0 533.6,549.5 534.4,550.0 534.9,545.7 535.5,547.7 535.7,545.6 536.6,545.5 537.0,543.0 538.2,544.2 538.8,543.2 540.2,544.5 541.0,544.7 541.7,542.3 541.8,544.1 542.6,541.6 542.8,539.9 543.7,537.9 544.0,538.8 544.5,536.5 544.9,533.7 544.8,535.2 545.4,533.3 545.4,533.3 545.7,530.5 545.7,528.2 546.2,527.0 546.4,526.5 546.6,525.5 546.5,523.3 546.9,525.5 547.3,520.8 547.3,522.3 547.7,520.0 547.9,519.2 547.9,517.6 548.8,514.5 548.7,516.6 548.8,514.2 549.2,513.8 549.6,513.2 550.0,511.5 550.0,509.0 550.6,508.5 551.5,508.8 552.6,510.5 552.5,507.6 553.1,508.3 553.3,506.8 553.0,507.4 553.3,504.9 553.8,501.8 553.8,501.2 554.2,501.5 554.0,500.4 554.0,498.4 554.7,499.2 554.2,495.1 554.6,494.0 555.1,495.4 555.0,492.6 555.0,492.8 555.6,491.4 556.0,489.7 555.8,486.2 556.5,487.8 556.4,486.3 556.9,484.8 556.9,481.7 557.0,481.2 557.5,481.0 557.6,479.8 557.8,477.6 558.0,478.2 558.4,477.2 559.1,473.3 559.4,472.9 559.6,474.3 559.6,470.2 560.2,468.9 560.2,470.7 560.3,468.0 560.7,467.0 561.2,469.4 561.4,469.7 561.8,469.2 562.6,472.3 563.3,471.1 563.5,472.7 564.0,474.7 564.9,474.0 565.9,477.4 567.0,475.4 568.2,476.6 569.0,478.0 570.0,477.2 570.7,477.7 571.1,480.9 572.0,481.0 572.1,482.1 572.3,482.4 573.0,484.0 573.2,487.7 573.1,485.2 573.2,489.6 573.6,490.1 573.7,492.2 574.1,492.7 574.1,491.2 574.7,495.2 574.9,493.7 575.0,497.8 575.2,497.6 575.8,497.2 575.7,500.5 575.9,499.2 576.4,502.0 576.5,501.3 576.4,498.7 576.8,498.9 576.8,498.6 576.6,494.9 576.9,495.9 576.8,494.7 577.1,493.9 577.5,492.8 577.1,490.2 577.5,490.7 577.5,489.4 577.9,485.5 577.6,485.0 578.0,483.9 578.0,481.2 578.1,481.8 578.3,479.4 578.5,481.0 578.5,477.8 578.7,476.9 578.8,474.4 578.7,475.0 579.5,475.9 580.4,473.3 580.9,472.4 582.0,471.4 582.0,472.1 582.2,467.7 582.8,466.8 582.6,464.8 582.9,466.2 583.3,462.3 583.5,463.4 583.4,462.7 584.0,462.2 583.9,457.7 584.3,458.3 584.3,456.2 584.5,455.5 585.1,455.1 585.2,452.1 585.1,453.3 585.8,452.5 585.7,449.5 586.0,450.1 586.4,447.2 586.3,447.5 586.5,444.2 586.8,444.0 587.4,442.6 587.7,442.9 588.0,441.8 588.1,437.6 588.7,440.0 588.7,436.0 589.0,436.4 589.1,434.8 589.7,433.3 590.0,432.4 590.3,429.4 591.3,432.1 591.7,430.9 592.5,429.3 592.5,428.5 593.2,426.5 593.8,425.6 594.7,423.9 595.0,422.7 595.2,424.3 595.6,425.0 595.8,427.9 596.4,426.4 596.7,426.8 596.9,431.3 597.2,429.7 597.3,431.9 597.7,431.4 598.2,434.0 598.3,434.4 598.3,435.6 598.6,436.0 598.8,440.2 598.9,440.3 599.1,440.1 599.1,442.3 599.1,444.1 599.1,444.1 599.4,445.0 599.6,446.8 599.6,446.6 599.6,451.2 599.9,451.2 600.3,451.3 600.3,452.6 600.0,453.2 600.3,457.3 600.5,457.0 600.6,454.1 601.0,454.4 600.9,451.9 601.4,454.2 601.3,449.8 601.7,449.4 602.0,449.3 601.9,448.9 602.3,447.4 602.3,446.3 602.6,445.3 602.4,444.6 602.5,443.3 603.0,440.6 603.6,440.6 604.4,438.5 604.6,437.7 605.4,437.5 605.7,435.7 606.3,434.0 606.8,434.0 607.5,431.6 608.0,431.0 608.2,429.3 608.8,429.8 608.8,427.4 609.0,425.0 609.4,423.6 609.4,424.2 609.8,424.4 610.4,422.9 610.3,422.1 611.0,418.8 610.8,416.0 611.3,417.0 611.8,417.2 612.2,414.5 612.2,413.2 612.4,412.7 612.8,410.2 613.0,409.6 614.5,408.6 615.5,409.5 616.7,406.8 618.0,408.0 618.3,406.4 618.7,406.0 618.7,406.4 619.0,403.1 619.1,404.2 619.6,401.2 619.5,398.6 620.0,400.7 619.8,397.7 620.4,398.0 620.8,396.6 620.7,395.7 621.0,393.0 621.5,390.5 622.3,390.8 622.8,388.4 623.6,388.5 623.8,390.2 624.1,390.3 623.6,392.6 624.2,392.9 624.2,393.6 624.1,393.6 624.4,398.1 624.2,398.6 624.5,399.1 624.7,399.3 625.0,401.6 624.7,402.9 624.7,402.3 625.0,405.0 624.8,404.9 624.9,401.0 625.4,401.6 625.4,400.7 625.0,397.4 625.2,399.0 625.3,397.6 625.3,394.3 625.8,392.8 625.5,393.6 625.6,391.9 625.9,389.1 626.0,390.0 625.9,388.3 625.6,386.4 626.2,387.9 626.0,385.0 626.6,383.1 626.6,383.9 627.4,381.8 627.8,380.2 627.8,378.0 628.1,378.7 628.9,375.8 629.0,375.4 629.3,374.2 629.1,372.0 629.3,371.3 629.5,372.6 629.5,369.7 629.9,368.4 629.8,366.7 630.4,364.4 630.2,364.2 630.4,362.3 630.4,361.3 630.8,361.9 631.1,358.7 631.0,357.2 631.1,359.0 631.7,356.3 631.4,356.5 631.9,353.5 632.2,352.5 632.4,350.6 632.1,350.6 632.4,349.4 632.3,348.0 632.5,347.9 632.8,347.5 632.8,344.2 632.9,344.0 633.0,343.8 633.3,341.2 633.6,339.1 633.7,338.4 633.6,337.9 633.6,336.0 634.2,334.0 634.2,333.4 634.3,331.4 634.4,331.2 634.3,329.8 634.5,328.7 634.9,326.7 634.9,326.2 635.2,327.5 635.4,326.2 635.2,322.1 635.5,320.5 635.5,321.8 635.7,320.0 636.0,318.5 635.9,318.5 636.2,317.9 636.3,315.9 636.9,312.7 636.9,314.0 636.7,310.1 637.0,309.4 637.3,308.8 637.4,306.6 637.6,307.8 638.0,307.5 638.0,305.8 638.3,303.8 638.6,304.7 638.4,305.6 639.1,308.7 638.8,307.7 639.4,311.2 639.3,309.2 639.9,310.6 640.1,312.2 639.9,315.6 640.2,316.6 640.5,317.0 640.9,319.2 640.7,318.5 641.1,322.4 641.5,323.5 641.8,324.0 641.7,324.7 642.1,323.6 642.2,326.6 642.4,327.5 642.4,330.7 642.6,331.2 643.3,332.1 643.4,331.6 643.7,335.6 643.7,335.0 644.0,334.3 644.1,336.9 644.3,337.7 644.8,339.6 645.0,339.3 644.9,336.2 645.1,336.1 645.1,336.7 645.6,332.9 645.5,331.1 645.7,330.7 645.8,330.4 645.8,327.7 645.8,328.3 646.2,327.8 645.9,324.0 646.0,323.8 646.1,321.4 646.5,320.8 646.2,320.6 646.6,319.0 646.5,318.0 646.5,315.6 647.0,318.1 647.0,315.0 647.3,314.5 647.3,319.3 647.5,317.0 647.4,319.5 647.5,321.2 648.0,323.9 648.3,323.9 648.1,325.2 648.2,324.8 648.7,325.1 648.6,329.6 648.9,328.1 649.2,332.0 649.3,330.5 649.3,333.0 649.9,335.4 650.0,334.5 650.5,337.6 651.1,336.9 651.7,338.0 652.0,339.6 652.0,339.7 652.6,342.2 652.9,344.4 653.4,345.9 653.4,345.5 653.5,345.3 653.7,348.2 654.0,349.8 654.7,350.0 654.5,349.8 655.0,352.6 655.0,353.6 655.1,355.9 655.8,357.6 655.7,358.5 656.0,357.7 656.1,359.9 656.3,360.4 656.7,362.9 656.5,365.0 656.8,363.8 656.9,366.1 657.0,365.8 657.4,367.5 657.8,371.3 658.0,372.1 658.0,373.6 657.9,374.2 658.4,374.9 658.5,375.4 658.6,375.8 658.6,379.6 658.6,379.5 659.0,379.5 658.6,379.4 658.8,383.2 659.0,382.0 659.0,384.3 659.1,385.6 659.0,387.4 659.0,386.8 659.2,391.0 659.5,389.1 659.1,390.8 659.4,393.0 659.4,392.0 659.7,390.6 659.8,388.4 659.9,386.8 659.8,387.5 659.9,385.6 660.5,384.6 660.6,383.9 660.3,383.5 660.8,383.3 661.0,378.6 660.7,378.6 661.1,379.7 661.0,377.8 661.1,376.6 661.4,373.3 661.6,371.2 661.7,372.0 661.8,369.7 662.0,370.5 662.3,370.1 662.5,368.8 662.8,367.8 662.9,363.7 663.1,363.2 663.4,363.4 663.3,360.0 663.8,361.3 663.4,360.1 663.7,358.4 664.3,357.0 664.5,354.1 664.3,355.2 664.6,352.1 664.9,353.5 665.0,351.0 665.0,350.6 665.7,351.7 665.8,353.2 666.2,354.7 666.1,356.2 666.6,359.3 667.0,359.7 666.8,361.9 667.1,360.6 667.6,362.4 668.1,361.2 667.8,361.2 668.6,357.5 668.6,358.2 668.7,356.2 669.1,356.5 669.5,355.4 669.6,351.0 670.2,350.3 670.0,350.6 670.5,349.0 670.6,348.9 670.9,351.3 670.9,352.1 671.3,351.8 671.1,354.3 671.9,356.0 671.5,355.5 671.8,359.2 672.1,358.8 672.3,360.0 672.7,362.2 672.4,365.3 673.0,364.7 673.0,365.7 673.5,368.3 673.8,368.4 674.0,368.4 674.7,371.2 675.0,372.8 675.4,371.4 675.6,374.2 675.9,374.9 676.4,375.4 676.6,376.7 676.8,375.8 677.5,378.0 677.4,379.7 677.6,379.9 678.0,382.0 678.1,382.5 678.8,382.2 678.9,385.1 679.1,386.7 679.2,386.2 679.7,387.8 680.1,390.6 680.3,392.5 680.8,393.6 681.0,393.0 681.6,392.2 682.8,395.1 683.4,395.1 684.0,396.6 684.4,395.1 684.4,392.5 684.5,394.6 684.5,390.9 684.9,389.3 685.0,390.3 685.2,387.8 685.8,387.5 685.6,386.5 686.3,385.6 685.9,383.9 686.6,383.5 686.4,380.5 686.8,378.6 687.0,378.7 687.4,379.0 687.6,378.0 688.2,374.5 688.4,374.6 688.7,373.5 689.1,369.8 689.6,368.6 689.9,368.6 690.1,368.5 690.3,366.7 691.0,365.7 692.0,367.0 692.7,366.8 694.1,364.9 695.0,364.0 695.2,364.5 695.6,364.9 696.0,368.5 696.6,369.8 697.1,369.9 697.5,371.1 697.7,372.4 698.1,374.1 698.8,375.1 699.0,375.4 699.7,377.3 701.0,378.1 701.4,377.7 702.4,378.7 702.9,380.0 702.5,379.7 703.1,382.3 703.1,384.7 703.2,386.8 703.4,387.1 703.6,385.4 704.0,388.5 704.6,385.8 705.0,386.8 705.7,387.3 706.2,383.2 707.0,383.6 707.6,385.7 707.4,384.5 707.9,388.1 708.4,390.1 708.7,389.8 709.1,391.6 709.8,390.9 710.0,391.2 710.3,392.1 710.6,395.0 711.4,395.7 711.7,395.4 712.5,397.9 712.9,401.1 713.2,399.3 713.8,400.6 714.2,401.5 715.0,404.7 715.5,404.8 716.3,402.9 716.5,401.5 717.2,400.2 717.4,401.9 718.2,400.4 718.4,397.4 719.2,397.1 719.6,394.7 720.0,395.0 720.9,396.1 722.0,396.8 722.9,396.1 723.6,398.0 724.0,396.3 723.9,397.1 724.6,396.0 724.3,392.5 725.1,390.6 725.3,389.0 725.5,388.4 725.4,387.1 725.6,388.2 726.3,385.7 726.5,386.0 726.3,385.9 727.0,381.8 726.7,382.4 727.1,380.5 727.3,379.1 728.1,376.2 728.0,377.0 728.6,377.4 728.7,377.7 729.0,378.8 729.4,380.1 729.8,381.1 730.0,383.6 730.1,384.8 730.6,385.4 730.8,388.9 731.4,387.3 731.6,391.1 731.5,389.9 731.7,391.1 732.3,391.4 732.6,394.0 732.5,395.1 733.2,397.6 733.4,398.0 734.1,399.2 735.0,400.8 735.5,402.5 735.9,401.6 736.6,403.0 737.4,401.6 737.5,400.3 737.9,399.3 738.3,400.5 739.3,397.9 739.6,395.3 739.9,394.7 740.3,392.9 741.2,394.3 741.3,393.5 741.9,391.5 742.5,390.2 743.0,388.5 743.7,388.9 744.0,388.9 744.3,393.5 745.0,393.6 745.2,393.4 745.5,396.6 745.9,397.7 746.4,398.0 747.6,397.6 748.5,397.7 749.7,397.0 750.9,394.9 752.1,394.6 753.0,395.0 754.3,395.3 755.4,395.8 756.4,395.0 757.9,398.2 759.1,397.0 760.1,398.5 761.7,396.3 762.7,398.0 764.0,398.1 765.3,399.9 766.0,400.3 767.6,398.7 768.4,400.7 769.7,398.3 771.0,400.0 771.3,399.6 771.9,403.5 772.0,403.2 773.0,404.2 773.1,406.5 773.8,406.8 774.0,408.0 773.9,410.2 774.2,411.1 774.3,411.7 774.5,412.3 774.4,413.6 774.9,414.1 774.8,414.7 775.0,418.5 775.1,418.2 775.2,421.4 775.8,421.8 775.7,421.3 775.9,424.9 775.7,424.4 776.0,425.9 776.1,428.2 776.5,428.2 776.5,431.0 776.7,430.5 776.6,433.9 777.1,435.3 777.2,434.1 777.0,435.1 777.4,437.0 778.1,438.9 779.0,438.9 780.0,441.3 780.6,440.6 781.0,439.9 781.3,442.8 781.6,445.5 782.2,445.2 782.3,446.2 782.9,447.7 783.2,449.5 783.1,449.6 783.8,451.9 784.3,453.4 784.3,452.0 785.0,453.0 784.9,454.2 785.5,457.0 785.8,456.8 786.0,452.8 786.1,454.2 786.5,450.4 786.7,450.7 787.0,451.8 786.8,450.1 787.3,446.7 787.8,444.2 787.6,444.1 787.8,443.1 788.2,444.0 788.3,441.4 788.5,438.4 788.8,439.0 789.6,441.5 789.9,442.4 790.5,440.8 791.3,443.1 792.0,444.0 792.8,443.0 793.6,442.6 794.3,442.7 795.3,440.6 795.9,443.3 796.4,440.8 797.0,443.8 797.5,444.9 798.4,444.8 799.0,445.8 799.5,448.9 800.0,448.7 801.3,449.1 802.4,449.6 803.2,448.6 804.1,451.5 805.2,452.9 806.5,452.0 806.9,451.3 807.7,451.6 808.3,450.1 809.0,448.5 809.3,446.0 809.8,447.1 810.5,446.4 811.0,442.1 812.1,443.8 812.5,441.3 813.0,440.6 814.5,439.6 815.4,441.3 817.0,438.8 818.4,438.8 819.5,440.6 820.4,439.5 821.6,440.4 822.5,440.0 823.7,441.2 824.7,440.6 826.0,439.0 826.6,439.0 826.3,436.2 826.9,435.0 827.1,433.2 827.4,431.5 827.6,432.8 827.7,431.5 828.0,430.9 828.8,430.1 828.8,429.0 829.0,425.2 829.3,425.9 829.4,425.4 830.1,422.5 830.2,421.7 830.2,418.5 831.0,418.1 831.0,417.8 832.0,418.7 833.1,418.6 834.9,416.8 835.8,416.0 837.0,414.8 837.5,415.4 838.7,413.5 839.9,412.6 840.7,413.0 841.3,410.5 841.4,409.9 841.9,409.7 842.8,408.5 843.0,407.5 843.5,404.1 844.0,404.8 844.2,402.0 844.3,401.0 844.3,400.7 844.3,400.8 844.8,397.7 844.9,397.1 844.8,398.1 844.7,394.1 844.8,395.8 845.2,393.1 845.2,390.5 845.4,389.5 845.4,389.7 845.6,388.5 846.0,386.1 846.4,385.0 847.3,384.0 847.8,383.9 848.3,380.8 848.7,381.6 849.1,380.7 849.7,378.2 849.9,376.8 850.5,377.0 851.2,374.3 852.0,375.5 852.7,376.2 853.7,373.8 853.8,375.2 854.4,376.3 854.3,377.9 854.9,377.1 854.8,381.1 855.4,380.3 855.8,379.6 855.8,379.1 856.2,377.9 856.2,377.1 856.7,376.0 856.8,372.6 857.4,370.8 857.3,371.3 857.6,368.7 857.9,366.9 858.6,366.2 858.6,365.7 859.2,366.6 859.4,363.5 860.0,363.6 860.2,362.4 860.6,359.1 861.0,360.6 861.4,356.5 861.4,356.5 862.0,356.0 862.3,356.7 862.1,354.6 862.8,353.8 862.9,352.9 863.1,351.5 863.0,349.3 863.4,349.1 863.3,348.1 863.6,347.3 863.6,346.1 864.1,345.0 864.3,341.0 864.1,339.7 864.5,339.6 864.6,340.6 865.2,341.9 865.3,343.9 865.5,343.9 865.7,346.7 866.0,348.5 865.7,347.5 866.4,349.7 866.4,349.6 866.8,352.8 866.8,352.6 867.2,349.5 867.3,348.4 867.9,350.4 868.3,348.4 868.5,346.2 869.2,345.1 869.4,344.5 869.4,346.2 869.6,345.2 869.8,348.9 870.2,349.9 870.3,348.9 870.5,349.8 870.3,351.6 870.5,355.9 871.0,354.1 871.2,356.9 871.1,357.2 871.2,360.6 871.2,362.0 871.3,362.5 871.7,362.4 872.1,361.5 873.3,359.1 873.9,359.3 874.3,357.5 875.0,357.5 875.5,354.7 875.9,356.6 876.5,353.5 876.8,354.4 877.2,350.0 877.8,350.3 878.0,349.4 878.9,348.0 879.6,348.2 880.7,346.9 881.4,346.0 881.7,348.8 882.3,347.8 882.5,347.8 882.6,351.5 883.1,351.7 883.3,354.7 883.2,355.3 883.6,354.8 884.3,358.4 884.5,356.4 884.7,359.0 885.7,358.9 887.3,357.8 888.2,358.4 889.6,357.5 890.8,358.8 892.1,358.3 893.5,360.3 894.8,359.9 896.0,359.0 896.6,359.7 896.8,362.2 896.9,361.6 897.6,364.0 897.7,366.0 898.2,364.6 898.3,368.7 898.7,369.3 898.9,368.8 899.5,369.9 900.2,373.8 900.2,371.8 900.5,376.0 901.0,375.4 902.0,375.2 903.0,374.9 904.2,376.6 905.2,379.5 906.7,377.0 907.5,378.7 908.5,379.3 909.3,380.9 909.7,380.4 910.7,383.0 911.7,383.0 912.4,383.6 912.5,383.4 913.1,380.7 912.9,380.1 913.1,379.3 913.2,378.7 913.7,377.7 914.2,374.7 914.0,373.1 914.3,371.1 914.6,372.7 914.9,370.1 914.8,367.7 915.5,368.7 915.5,367.4 915.6,365.7 916.2,367.7 917.1,369.3 917.6,367.8 918.3,370.5 919.3,368.9 919.8,371.2 920.5,372.0 921.1,373.9 921.1,372.9 921.5,373.8 922.1,376.7 922.3,378.6 922.6,378.7 923.2,379.3 923.5,382.6 923.8,381.2 924.0,384.8 924.6,386.6 924.9,387.1 925.3,387.9 925.4,388.5 926.7,386.7 927.8,388.6 928.6,386.5 930.0,387.0 930.8,388.6 931.0,388.4 931.5,389.3 932.6,392.3 932.8,393.9 933.2,394.7 934.0,395.0 934.4,395.4 935.2,391.0 935.5,390.6 936.2,389.2 936.9,390.2 937.5,387.2 937.7,386.4 938.4,387.0 939.4,388.0 940.6,387.3 941.7,388.5 942.2,386.2 942.6,385.0 942.7,386.3 943.2,382.0 943.4,380.9 943.4,381.3 944.1,381.0 944.3,379.6 944.7,378.2 945.0,377.0 945.9,375.0 946.6,377.2 947.0,376.1 947.6,375.3 948.4,372.3 949.4,371.3 950.0,370.6 950.6,370.4 951.0,367.9 951.6,367.1 952.5,365.3 952.9,365.5 953.6,363.2 954.0,362.2 954.7,362.4 955.7,362.0 956.6,362.9 957.5,362.2 958.3,360.6 959.0,359.0 959.2,358.4 959.9,359.3 960.1,363.2 960.2,362.5 960.7,363.2 960.9,367.6 961.1,365.0 961.9,367.3 962.0,369.0 963.0,370.6 963.8,368.2 965.2,368.8 966.0,370.6 966.6,371.6 966.7,374.5 967.0,373.9 966.8,373.7 967.4,376.6 967.5,376.3 968.1,376.7 968.4,380.6 968.4,382.8 968.7,382.0 968.7,384.1 968.9,385.6 968.5,384.1 968.8,385.6 968.5,387.5 969.0,390.5 968.6,390.2 968.9,393.1 968.8,391.1 969.1,394.5 969.0,395.1 968.8,395.2 968.9,399.2 969.0,397.2 968.8,398.5 969.1,401.0 969.2,402.9 968.8,403.3 968.8,405.6 969.1,405.8 969.3,407.8 969.2,407.3 969.2,410.3 969.4,409.3 969.0,412.3 969.5,412.1 969.2,413.2 969.5,416.7 969.4,417.3 969.1,416.1 969.5,421.0 969.1,418.5 969.6,420.5 969.4,422.7 969.7,420.4 970.0,422.2 970.0,421.0 970.1,416.8 970.4,418.1 971.0,417.8 971.3,413.5 971.4,412.3 971.8,410.9 972.1,413.0 972.3,408.3 972.5,409.4 972.6,408.0 973.0,406.9 973.4,406.1 973.3,402.9 973.8,403.6 974.0,401.9 974.3,402.1 975.1,401.3 975.0,398.7 975.4,398.3 975.9,396.6 976.5,395.5 977.6,396.9 978.1,393.6 979.4,394.3 979.7,393.9 980.8,391.7 981.3,390.2 981.8,390.7 982.9,389.1 983.0,388.7 983.6,384.9 984.5,386.4 985.1,384.7 985.7,383.6 986.2,382.1 986.8,382.0 987.1,381.3 987.5,380.9 987.5,379.1 988.4,377.8 988.8,375.7 989.2,373.7 989.5,373.6 989.7,371.8 990.1,371.1 990.6,370.6 991.1,367.9 991.8,370.3 992.4,369.0 993.0,367.5 993.1,366.1 993.8,364.0 994.3,364.1 994.7,364.3 995.7,368.8 996.1,367.7 996.7,370.6 997.0,370.6 997.6,370.7 998.3,366.8 998.7,366.6 999.2,365.7 999.6,367.0 1000.4,364.2 1001.2,363.1 1001.7,361.5 1002.0,360.8 1003.2,362.3 1003.7,360.6 1005.0,362.0 1005.6,361.7 1006.9,365.2 1007.5,363.7 1008.5,365.7 1009.7,367.0 1010.8,367.8 1011.6,366.3 1012.9,366.0 1013.8,367.3 1015.0,369.0 1016.2,370.6 1017.3,368.8 1018.4,368.5 1019.1,367.1 1020.1,365.9 1021.5,367.3 1021.6,365.6 1022.2,363.5 1022.6,365.8 1023.0,361.9 1022.9,360.4 1023.4,359.7 1023.8,360.1 1023.9,359.2 1024.4,358.9 1024.8,356.0 1025.0,356.2 1025.6,355.0 1026.4,353.9 1026.5,352.0 1026.9,348.2 1027.3,350.6 1028.0,347.8 1029.1,348.1 1030.0,347.8 1031.0,345.5 1032.3,348.5 1033.5,346.9 1034.5,346.0 1035.2,345.6 1036.7,345.4 1037.7,346.6 1038.6,348.2 1039.4,349.4 1039.9,349.2 1039.9,350.8 1040.0,353.1 1040.7,353.2 1040.8,354.5 1041.0,357.7 1041.2,356.6 1041.7,359.0 1042.8,358.2 1044.0,359.0 1045.0,359.6 1046.6,358.5 1047.6,357.5 1048.5,356.1 1049.8,356.5 1051.3,356.2 1052.4,356.0 1053.0,353.5 1053.8,354.3 1054.8,352.4 1055.4,351.1 1056.5,351.3 1057.3,351.0 1057.7,351.6 1057.8,347.0 1058.3,348.6 1058.9,347.9 1058.7,346.7 1059.3,345.9 1059.4,342.0 1059.8,343.3 1060.1,339.1 1060.6,339.6 1061.1,340.1 1061.3,338.2 1062.0,335.9 1062.7,333.8 1062.8,333.2 1063.5,334.6 1063.7,330.2 1064.5,330.9 1065.0,327.3 1065.5,328.0 1065.8,327.8 1066.1,324.7 1066.6,325.1 1067.0,322.1 1067.2,324.2 1067.3,322.7 1067.5,321.8 1068.1,317.9 1068.1,319.5 1068.7,316.8 1068.9,314.5 1069.4,314.2 1070.3,312.1 1070.8,312.5 1071.2,310.6 1071.8,307.9 1072.0,308.7 1072.8,306.8 1073.9,307.1 1074.7,306.2 1075.2,305.4 1076.1,306.4 1077.2,307.8 1078.5,307.0 1078.8,307.8 1079.4,303.5 1079.3,302.7 1079.8,301.6 1079.9,299.2 1080.5,298.6 1080.7,296.7 1080.9,296.6 1081.3,296.6 1081.3,293.7 1081.8,294.0 1082.4,291.3 1082.2,290.2 1082.7,290.5 1082.7,290.8 1083.1,287.0 1083.5,287.3 1084.1,285.4 1084.3,285.2 1084.3,285.2 1084.7,283.9 1085.0,281.0 1085.4,278.1 1085.1,277.1 1085.5,276.7 1086.0,278.3 1086.0,274.9 1086.3,275.5 1086.4,273.5 1086.4,270.2 1086.8,271.3 1087.2,270.7 1087.0,270.2 1087.6,265.5 1087.3,266.3 1087.6,265.6 1087.8,262.7 1088.2,262.6 1088.3,261.4 1088.6,258.5 1088.7,259.5 1089.1,258.5 1089.1,254.6 1089.4,256.0 1089.3,254.7 1089.9,254.7 1089.9,250.6 1089.9,252.3 1090.6,248.9 1090.3,249.7 1090.6,247.8 1091.1,246.3 1090.9,242.9 1091.2,242.1 1091.5,242.0 1091.6,241.2 1092.2,243.8 1092.6,243.5 1093.0,248.1 1093.5,246.8 1093.5,248.2 1093.8,249.5 1094.2,251.3 1094.8,251.7 1095.4,252.4 1095.6,255.1 1095.8,255.8 1096.2,257.2 1096.4,256.4 1096.4,258.0 1096.9,261.3 1097.4,262.6 1097.2,262.7 1097.7,261.6 1098.0,264.7 1098.1,264.4 1098.2,260.7 1098.8,259.9 1098.8,258.1 1099.3,257.9 1099.1,259.7 1099.9,255.0 1099.7,257.3 1100.1,253.6 1100.3,252.3 1100.4,251.8 1100.6,248.9 1100.8,248.2 1101.3,248.4 1101.7,247.7 1101.9,245.1 1101.9,245.8 1102.1,243.7 1102.5,244.3 1102.5,239.6 1102.9,241.0 1103.0,239.9 1103.6,239.0 1103.7,235.1 1104.0,234.3 1104.3,235.6 1104.1,232.1 1104.6,232.0 1104.8,231.4 1104.8,228.1 1105.0,228.7 1105.2,227.7 1105.6,225.0 1105.9,224.9 1106.1,221.6 1106.1,221.2 1106.5,221.6 1106.8,220.3 1106.7,217.5 1106.9,218.1 1107.0,214.9 1107.6,216.1 1107.9,214.7 1107.8,212.6 1107.9,214.9 1108.4,214.2 1108.6,214.3 1108.4,215.6 1108.7,218.5 1109.4,221.4 1109.2,220.6 1109.6,220.4 1109.8,223.2 1110.1,225.2 1110.1,226.6 1110.5,224.9 1110.6,227.8 1111.0,229.0 1111.1,228.5 1111.6,225.9 1112.1,226.2 1112.2,223.7 1112.8,224.7 1112.6,222.3 1113.2,220.4 1113.1,218.5 1113.9,220.1 1114.0,215.5 1114.3,215.8 1114.5,215.2 1115.2,211.9 1115.4,213.6 1115.7,209.8 1116.4,208.7 1116.4,207.5 1116.6,209.2 1117.0,205.5 1117.6,206.0 1117.9,205.8 1118.0,209.6 1118.7,208.1 1118.8,210.3 1119.0,210.2 1119.3,214.8 1120.0,213.1 1120.4,216.8 1120.8,216.2 1120.8,217.5 1121.2,216.8 1122.0,215.2 1122.2,215.2 1123.3,211.9 1123.7,210.5 1123.9,210.3 1124.6,208.9 1124.9,210.8 1125.7,207.7 1126.5,208.1 1127.6,204.4 1128.1,204.1 1129.3,203.5 1130.0,202.8 1130.5,205.3 1131.0,203.0 1131.5,206.5 1131.6,209.0 1132.4,209.6 1132.5,208.4 1132.9,209.9 1133.2,211.0 1133.9,212.6 1134.7,212.6 1135.0,214.4 1135.6,217.3 1136.2,215.8 1136.8,219.2 1137.0,219.0 1137.6,218.8 1137.8,218.0 1138.4,216.2 1138.7,215.8 1139.3,213.4 1139.8,213.4 1140.4,211.0 1140.8,213.5 1140.5,214.8 1141.0,216.2 1141.1,216.4 1141.4,215.0 1141.3,218.2 1141.6,218.5 1141.8,221.4 1141.7,220.3 1141.7,221.6 1141.8,223.1 1142.1,226.1 1142.1,224.4 1142.4,228.2 1142.6,228.3 1143.1,230.8 1143.1,230.0 1143.1,233.5 1143.4,234.7 1143.7,233.5 1143.6,235.4 1143.6,236.9 1144.2,238.2 1144.2,239.1 1144.6,239.9 1144.4,242.1 1144.7,242.1 1145.1,245.8 1145.4,243.6 1145.5,244.5 1145.7,247.3 1145.6,248.5 1146.0,250.0 1147.2,249.7 1147.9,250.4 1149.1,247.7 1150.0,248.4 1150.3,250.7 1151.3,252.1 1151.4,251.4 1152.3,253.6 1152.4,252.7 1153.0,255.0 1153.3,253.2 1153.4,251.4 1153.7,251.6 1154.1,249.0 1154.0,251.2 1154.0,249.3 1154.4,248.6 1154.8,246.8 1155.1,244.1 1155.0,243.5 1155.0,243.5 1155.7,245.9 1156.0,248.7 1156.3,248.4 1156.0,249.8 1156.7,251.3 1156.8,251.7 1156.9,252.2 1157.3,254.1 1157.3,255.5 1157.7,254.8 1158.0,258.0 1159.0,258.0 1159.5,255.3 1160.3,255.6 1161.6,255.1 1162.2,252.6 1163.0,253.0 1163.6,255.0 1164.1,256.1 1164.7,255.5 1164.7,259.2 1165.5,260.4 1166.0,259.8 1166.2,259.2 1167.1,263.1 1167.5,261.6 1168.3,264.6 1168.7,264.5 1168.8,265.2 1169.5,267.3 1169.6,264.8 1169.7,265.4 1169.8,262.4 1169.9,260.9 1170.2,260.6 1170.3,258.9 1170.8,258.8 1170.9,257.7 1170.6,256.5 1170.7,255.8 1170.8,252.9 1171.5,253.9 1171.3,251.5 1171.4,250.4 1171.6,250.3 1172.0,246.9 1171.6,247.4 1172.2,247.3 1172.3,244.2 1172.3,245.2 1172.4,242.1 1172.8,241.4 1172.8,240.0 1173.7,240.0 1174.0,236.7 1174.9,238.6 1175.5,236.7 1176.0,235.4 1176.8,233.7 1176.9,233.5 1177.3,230.9 1178.2,232.7 1178.4,228.2 1179.0,229.0 1179.8,228.1 1180.9,226.8 1181.5,225.9 1182.4,227.4 1183.1,224.7 1184.0,224.0 1184.9,224.3 1185.6,226.6 1186.6,225.7 1187.5,227.0 1188.0,225.2 1188.0,224.6 1188.6,222.5 1188.8,220.6 1189.0,220.7 1189.2,220.0 1190.0,221.3 1190.1,222.8 1190.6,223.7 1191.3,227.6 1191.8,229.5 1192.0,229.0 1192.6,230.3 1193.0,229.6 1192.9,232.0 1193.7,234.4 1193.6,234.0 1194.3,237.1 1194.8,237.1 1194.6,236.0 1195.0,237.4 1195.6,240.0 1196.8,240.4 1197.7,237.5 1199.0,238.6 1199.2,236.1 1199.5,236.9 1199.6,234.4 1199.4,233.5 1199.4,231.6 1199.9,233.3 1199.5,231.0 1199.6,227.7 1200.1,227.2 1200.1,224.8 1199.9,226.1 1200.4,224.0 1200.3,223.3 1200.5,223.3 1200.5,219.9 1200.9,221.2 1200.8,219.9 1200.7,215.6 1201.0,215.8 1201.7,214.4 1202.4,211.9 1202.9,214.0 1203.7,209.9 1204.2,210.6 1204.9,210.3 1205.4,209.0 1205.9,207.5 1206.1,208.5 1206.0,206.0 1206.2,203.9 1206.7,204.9 1207.0,203.3 1207.0,201.0 1207.9,203.8 1208.7,202.0 1209.3,202.6 1210.0,204.4 1210.9,202.1 1211.3,202.5 1211.9,203.3 1213.0,202.5 1213.7,198.4 1214.5,199.2 1215.0,198.0 1215.3,199.4 1215.4,201.9 1215.8,202.4 1216.1,201.5 1216.7,205.0 1216.9,205.5 1217.5,206.6 1217.7,205.2 1217.9,208.8 1218.4,209.0 1219.2,210.3 1220.5,209.9 1221.5,212.9 1222.1,211.6 1223.0,212.6 1223.5,215.0 1223.9,214.8 1224.2,215.8 1224.0,217.2 1224.4,219.5 1224.6,220.4 1225.3,222.8 1225.3,223.0 1225.8,223.8 1226.4,223.4 1226.5,225.6 1227.7,224.1 1229.2,224.6 1229.9,228.2 1231.4,227.0 1232.0,225.9 1232.9,226.0 1233.6,223.6 1233.8,222.0 1234.7,222.3 1234.8,224.6 1235.4,223.2 1235.6,224.9 1236.2,228.3 1236.4,228.8 1236.7,230.4 1237.3,231.5 1237.8,232.8 1238.0,232.0 1238.5,233.6 1239.0,235.6 1239.7,233.7 1240.1,237.6 1240.3,238.5 1241.0,238.6 1241.5,239.7 1241.8,242.8 1242.0,240.8 1242.1,243.6 1242.2,243.3 1242.7,245.7 1243.0,246.1 1243.5,248.4 1243.4,249.8 1243.8,252.1 1244.5,253.6 1244.5,253.0 1245.2,250.6 1245.7,253.0 1246.3,250.4 1246.9,247.4 1247.7,248.4 1247.9,245.7 1248.3,246.6 1248.7,246.6 1249.2,243.1 1249.2,243.0 1249.6,242.8 1249.9,239.6 1250.4,238.1 1250.7,236.7 1250.4,234.8 1251.0,235.4 1251.8,235.0 1252.8,234.3 1254.0,233.7 1254.4,236.2 1254.8,236.8 1254.9,239.2 1254.7,239.3 1255.2,237.9 1255.4,242.7 1255.5,242.3 1256.3,242.9 1256.5,244.8 1256.4,243.7 1256.8,246.8 1257.3,244.3 1257.7,242.9 1258.0,242.4 1258.0,242.2 1258.3,242.8 1258.4,240.6 1259.0,238.6 1259.9,241.0 1260.3,239.2 1260.5,240.9 1261.4,242.3 1262.1,245.7 1262.4,245.0 1263.1,246.0 1263.5,243.6 1264.4,242.9 1265.2,240.4 1265.6,240.0 1265.9,237.9 1266.4,236.3 1267.2,236.9 1267.5,234.1 1268.1,234.6 1268.5,232.8 1269.0,232.0 1269.5,229.1 1270.3,229.7 1271.1,230.0 1272.0,228.0 1272.3,230.4 1272.8,228.6 1273.2,230.9 1273.5,233.6 1274.3,234.3 1274.6,234.6 1275.0,237.6 1275.4,237.0 1276.1,236.3 1277.1,236.5 1278.2,237.2 1279.0,239.1 1280.0,240.0 1281.1,240.9 1281.5,240.6 1282.4,241.7 1283.5,245.0 1284.0,243.9 1285.0,245.0 1285.0,244.4 1285.4,248.8 1285.6,247.3 1285.7,248.1 1285.7,250.4 1286.2,253.2 1286.1,253.5 1286.4,255.4 1286.4,256.5 1286.5,258.7 1286.9,257.2 1286.9,258.3 1287.6,261.5 1287.4,261.3 1287.5,263.8 1288.0,264.0 1287.8,265.3 1288.2,265.1 1288.4,268.0 1289.8,270.4 1290.7,267.2 1291.7,269.2 1293.0,269.6 1293.7,269.3 1294.3,268.9 1295.3,268.5 1295.6,265.7 1296.3,264.8 1297.4,264.7 1298.0,263.0 1298.6,264.5 1298.8,263.5 1298.8,267.7 1299.1,266.9 1299.9,269.1 1300.2,269.3 1300.6,270.5 1301.1,271.3 1300.9,273.1 1301.5,274.5 1301.7,274.1 1301.8,278.3 1302.0,276.7 1301.6,280.1 1302.0,280.0 1301.7,279.6 1302.3,282.2 1302.1,286.0 1302.4,286.8 1302.4,287.8 1302.5,289.5 1302.6,290.6 1302.6,288.7 1302.6,291.1 1302.8,291.8 1302.7,293.9 1302.9,293.8 1303.0,295.9 1302.9,297.7 1303.1,298.4 1303.4,300.5 1303.4,301.8 1303.7,300.8 1303.5,303.1 1303.6,303.4 1303.7,305.4 1304.4,305.1 1304.8,303.2 1305.1,301.0 1305.5,300.5 1306.2,299.4 1306.4,299.8 1307.2,296.7 1307.6,297.3 1308.0,295.6 1308.5,297.3 1308.6,297.0 1309.0,298.6 1309.7,302.1 1310.4,302.1 1310.4,303.8 1311.0,303.8 1311.2,302.1 1312.0,302.8 1312.2,300.5 1312.7,298.5 1313.3,299.2 1313.7,298.6 1313.9,295.9 1314.6,294.3 1314.5,292.7 1315.4,292.0 1315.5,293.2 1316.0,290.7 1317.5,291.7 1318.3,289.6 1319.7,290.5 1321.0,289.0 1322.1,286.6 1322.6,287.1 1323.4,286.9 1324.3,283.7 1324.9,284.4 1326.0,284.0 1326.5,284.6 1326.8,285.6 1326.8,287.8 1327.4,286.5 1327.5,290.0 1328.2,289.5 1328.2,293.4 1328.7,293.2 1329.0,294.0 1329.3,294.3 1330.3,295.3 1330.9,297.4 1331.3,296.5 1332.1,298.2 1333.0,299.5 1333.7,299.5 1334.0,302.0 1334.7,299.8 1335.0,298.7 1335.1,298.1 1336.1,298.6 1336.5,295.4 1337.1,295.1 1337.3,294.0 1337.6,293.3 1338.2,295.1 1338.7,298.4 1338.8,298.5 1339.0,300.6 1339.8,299.5 1340.3,301.3 1340.4,301.0 1340.5,302.6 1341.0,303.2 1341.6,305.4 1342.0,307.0 1343.0,306.5 1344.2,306.7 1345.2,307.3 1346.5,304.9 1347.8,303.8 1348.7,303.8 1350.2,303.0 1351.1,303.9 1352.5,305.2 1353.5,304.2 1355.0,305.4 1355.5,306.2 1356.3,301.8 1356.8,302.4 1357.7,300.5 1358.1,299.5 1358.7,300.9 1359.2,297.7 1360.0,297.0 1360.2,298.8 1360.2,299.1 1360.5,299.5 1360.7,301.5 1360.7,302.4 1360.5,302.2 1360.9,307.1 1360.9,307.1 1360.8,307.5 1361.2,307.5 1361.1,310.7 1361.2,311.7 1361.3,312.7 1361.5,313.5 1361.5,314.8 1361.9,315.8 1361.8,315.5 1362.1,318.9 1362.3,319.8 1362.1,320.8 1362.4,321.7 1363.6,321.0 1364.7,321.1 1365.5,319.9 1366.6,320.0 1367.5,321.0 1367.8,318.8 1368.4,317.7 1369.7,318.1 1370.0,316.3 1370.6,315.9 1371.5,313.6 1372.7,314.5 1374.2,310.9 1375.4,312.2 1376.4,312.0 1377.1,313.7 1377.5,315.3 1378.3,316.3 1378.9,313.8 1379.4,314.8 1380.1,318.0 1381.0,318.4 1381.9,316.4 1383.3,316.2 1384.2,318.0 1385.0,317.6 1386.0,315.0 1386.1,315.0 1386.7,314.4 1386.7,312.4 1387.4,308.7 1387.5,309.4 1387.5,309.4 1387.9,307.6 1388.2,306.8 1388.8,303.3 1388.9,302.5 1388.9,303.5 1389.3,301.8 1389.4,298.7 1389.8,300.5 1390.2,297.5 1390.6,294.4 1390.9,296.1 1391.0,294.0 1391.5,292.5 1392.6,291.5 1393.1,291.8 1393.6,290.4 1394.6,291.0 1395.5,288.5 1396.0,287.5 1396.9,287.1 1397.8,288.5 1398.3,288.3 1399.2,291.3 1400.0,291.1 1400.8,292.4 1401.2,290.1 1401.9,288.0 1402.4,287.8 1402.7,287.8 1402.9,286.9 1403.4,286.3 1404.0,284.0 1405.2,286.2 1406.2,286.1 1407.1,285.8 1407.8,288.6 1409.0,287.5 1409.2,287.1 1409.3,289.9 1409.9,289.9 1409.7,291.8 1410.2,292.1 1410.4,293.4 1410.6,295.9 1411.1,297.0 1411.4,296.2 1411.1,298.1 1411.6,300.5 1411.8,300.4 1411.8,298.3 1412.0,298.1 1412.1,296.7 1412.6,294.9 1412.7,292.9 1412.9,290.5 1412.8,291.8 1413.3,290.1 1413.6,287.1 1413.3,289.0 1413.5,285.3 1413.7,284.1 1413.9,283.9 1414.2,282.0 1414.6,281.1 1414.4,281.3 1414.5,278.1 1414.7,277.4 1415.3,277.7 1415.1,277.7 1415.5,274.5 1416.8,272.2 1418.0,273.3 1418.8,272.8 1420.0,272.8 1421.0,270.2 1421.4,271.0 1422.3,269.8 1422.8,270.4 1423.5,266.9 1424.2,268.8 1425.0,266.3 1425.8,267.9 1426.5,268.0 1427.2,268.1 1427.6,271.5 1428.8,270.4 1429.0,273.8 1430.0,272.8 1430.9,272.5 1431.7,272.6 1432.4,268.9 1433.4,269.6 1434.1,271.5 1434.6,270.6 1435.1,273.4 1435.5,272.0 1436.1,274.2 1436.6,276.0 1437.7,275.3 1439.0,276.7 1440.3,277.2 1441.9,276.2 1443.0,276.0 1444.1,275.2 1445.2,275.7 1446.0,276.2 1446.6,278.3 1447.8,279.2 1448.5,279.9 1449.7,281.0 1449.8,280.0 1450.1,280.6 1450.3,277.3 1450.6,278.4 1451.2,275.9 1451.4,273.8 1451.2,272.2 1451.7,270.1 1451.8,272.3 1452.4,269.5 1452.3,267.7 1452.7,267.5 1453.0,266.3 1454.4,267.7 1455.4,264.5 1456.3,264.8 1457.8,264.7 1459.1,264.2 1460.0,263.4 1461.0,264.0 1461.7,265.6 1462.8,267.3 1464.1,265.6 1464.9,265.3 1466.0,268.0 1467.3,266.5 1468.4,266.1 1469.6,266.9 1471.0,266.4 1472.5,268.0 1472.7,269.1 1473.4,271.4 1473.7,270.2 1474.1,273.7 1474.6,274.4 1475.2,276.2 1476.0,275.9 1476.0,275.0 1476.7,277.7 1478.1,278.5 1479.2,278.6 1480.5,277.7 1482.0,277.7 1482.9,278.1 1483.9,279.4 1485.1,278.8 1486.2,278.7 1487.0,281.0 1487.7,280.1 1488.7,277.8 1489.6,278.5 1490.3,277.2 1491.0,278.4 1492.0,276.0 1493.5,278.2 1494.8,278.5 1495.9,275.8 1497.0,277.0" fill="none" stroke="#0a0a0a" stroke-width="2.35" stroke-linejoin="miter" stroke-miterlimit="3.5" stroke-linecap="round"/>
<line x1="104" x2="1506" y1="313.2" y2="313.2" stroke="#000" stroke-width="2" stroke-dasharray="6 6.197" stroke-dashoffset="3.45"/>
<line x1="352.4" x2="352.4" y1="322" y2="630" stroke="#fb1d63" stroke-width="2"/>
<polygon points="347.2,320 357.8,320 352.5,329.6" fill="#fb1d63"/>
<circle cx="352.2" cy="630.4" r="5.4" fill="#fb1d63"/>
<line x1="962.2" x2="962.2" y1="322" y2="377" stroke="#fb1d63" stroke-width="2"/>
<polygon points="956.8,320.2 967.8,320.2 962.2,329" fill="#fb1d63"/>
<circle cx="962.2" cy="377.3" r="5.4" fill="#fb1d63"/>
<line x1="1498.7" x2="1498.7" y1="278" y2="336" stroke="#d8145c" stroke-width="2"/>
<polygon points="1493.2,334.3 1504.2,334.3 1498.7,324.2" fill="#fb1d63"/>
<circle cx="1498.6" cy="277.9" r="5.4" fill="#fb1d63"/>
<polyline points="1499.7,334 1499.7,539 1151.6,539" fill="none" stroke="#ff0000" stroke-width="2.2"/>
<text x="347.3" y="289.7" font-size="19" font-weight="700" fill="#ff0000" textLength="205" lengthAdjust="spacingAndGlyphs">2016 Recovery Phase</text>
<rect x="347.3" y="293.7" width="205" height="1.4" fill="#ff0000"/>
<text x="867.4" y="289.9" font-size="19" font-weight="700" fill="#ff0000" textLength="204.2" lengthAdjust="spacingAndGlyphs">2019 Recovery Phase</text>
<rect x="867.4" y="294.1" width="204.2" height="1.4" fill="#ff0000"/>
<text x="1200.5" y="504.6" font-size="19" font-weight="700" fill="#ff0000" textLength="206.5" lengthAdjust="spacingAndGlyphs">2023 Recovery Phase</text>
<rect x="1200.5" y="508.8" width="206.5" height="1.4" fill="#ff0000"/>
<text x="1175.4" y="528.4" font-size="19" font-style="italic" fill="#ff0000" textLength="257.3" lengthAdjust="spacingAndGlyphs">Capital Rotation Ratio = 0.13</text>
<text x="572" y="301.6" font-size="19" font-weight="700" font-style="italic" fill="#000" textLength="41.3" lengthAdjust="spacingAndGlyphs">20%</text>
<rect x="1213.3" y="691.3" width="285.2" height="60.2" fill="#fdf6df" stroke="#4a4a4a" stroke-width="1"/>
<text x="1225" y="731" font-size="19" font-weight="700" font-style="italic" fill="#000" xml:space="preserve" textLength="262" lengthAdjust="spacingAndGlyphs">Recovery ~  0.0&lt; Ratio &lt;0.2</text>
<text x="1433.9" y="880.2" font-size="26.6" fill="#111" stroke="#111" stroke-width="0.35" textLength="132.7" lengthAdjust="spacingAndGlyphs">glassnode</text>
<text x="35.2" y="75.6" font-size="43" fill="#333" stroke="#333" stroke-width="0.7" textLength="846.5" lengthAdjust="spacingAndGlyphs">Bitcoin: Inter-Cycle Capital Rotation Ratio</text>
<text x="36" y="875" font-size="15.6" fill="#8a8a8a" textLength="281" lengthAdjust="spacingAndGlyphs">© 2023 Glassnode. All Rights Reserved.</text>
</svg>
</body></html>
